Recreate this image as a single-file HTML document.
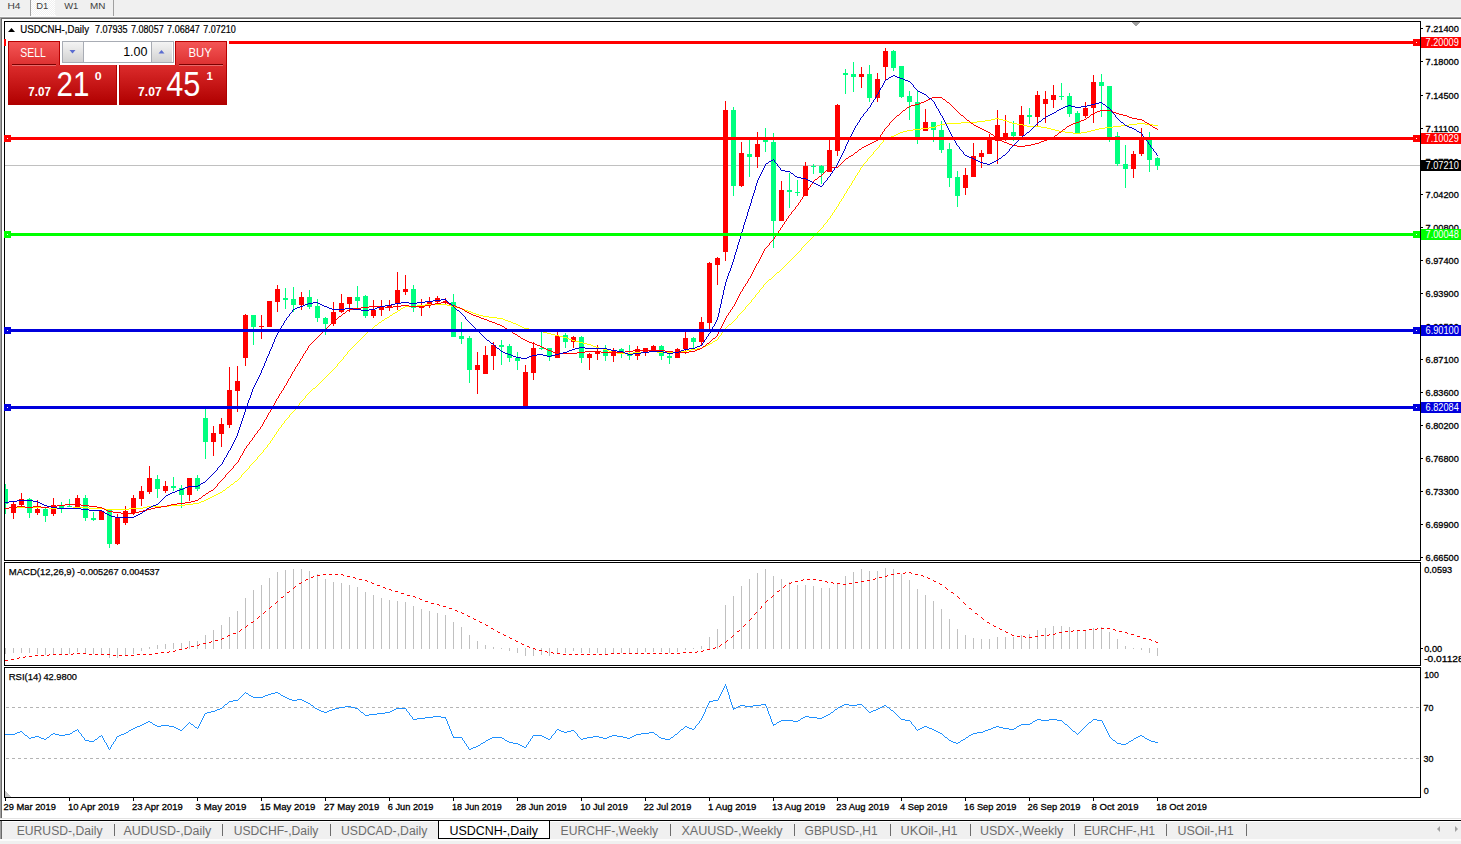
<!DOCTYPE html>
<html><head><meta charset="utf-8"><title>USDCNH-,Daily</title>
<style>
html,body{margin:0;padding:0;background:#f0f0f0;}
body{width:1461px;height:844px;overflow:hidden;font-family:"Liberation Sans", sans-serif;}
svg{display:block;font-family:"Liberation Sans", sans-serif;}
</style></head>
<body>
<svg width="1461" height="844" viewBox="0 0 1461 844">
<rect x="0" y="0" width="1461" height="844" fill="#f0f0f0"/>
<defs><pattern id="dith" x="0" y="0" width="2" height="2" patternUnits="userSpaceOnUse"><rect width="2" height="2" fill="#f0f0f0"/><rect width="1" height="1" fill="#ffffff"/><rect x="1" y="1" width="1" height="1" fill="#ffffff"/></pattern></defs>
<rect x="31" y="0" width="24" height="15" fill="url(#dith)" shape-rendering="crispEdges"/>
<rect x="30" y="15" width="26" height="1" fill="#fcfcfc"/>
<rect x="30" y="0" width="1" height="16" fill="#a0a0a0"/>
<rect x="113" y="0" width="1" height="17" fill="#a0a0a0"/>
<rect x="0" y="16" width="1461" height="1" fill="#f8f8f8"/>
<rect x="0" y="17" width="1461" height="1" fill="#a0a0a0"/>
<rect x="0" y="18" width="1461" height="1" fill="#696969"/>
<text x="7.4" y="9" font-size="9.8" fill="#404040" textLength="13.0" lengthAdjust="spacingAndGlyphs">H4</text>
<text x="36.2" y="9" font-size="9.8" fill="#404040" textLength="12.0" lengthAdjust="spacingAndGlyphs">D1</text>
<text x="64.2" y="9" font-size="9.8" fill="#404040" textLength="14.1" lengthAdjust="spacingAndGlyphs">W1</text>
<text x="90.0" y="9" font-size="9.8" fill="#404040" textLength="15.4" lengthAdjust="spacingAndGlyphs">MN</text>
<rect x="2" y="19" width="1459" height="799" fill="#ffffff"/>
<rect x="0" y="17" width="1" height="801" fill="#a0a0a0"/>
<rect x="1" y="18" width="1" height="800" fill="#696969"/>
<rect x="0" y="818" width="1461" height="1" fill="#e3e3e3"/>
<rect x="0" y="819" width="1461" height="1" fill="#ffffff"/>
<rect x="0" y="820" width="1461" height="1" fill="#000000"/>
<rect x="0" y="821" width="1461" height="1" fill="#ffffff"/>
<rect x="0" y="822" width="1461" height="17" fill="#f0f0f0"/>
<rect x="0" y="839" width="1461" height="2" fill="#fbfbfb"/>
<rect x="0" y="841" width="1461" height="3" fill="#f0f0f0"/>
<rect x="0" y="821" width="1" height="18" fill="#a0a0a0"/>
<rect x="1" y="821" width="1" height="18" fill="#696969"/>
<rect x="4" y="21" width="1417" height="1" fill="#000"/>
<rect x="4" y="560" width="1417" height="1" fill="#000"/>
<rect x="4" y="21" width="1" height="540" fill="#000"/>
<rect x="1420" y="21" width="1" height="540" fill="#000"/>
<rect x="4" y="562" width="1417" height="1" fill="#000"/>
<rect x="4" y="665" width="1417" height="1" fill="#000"/>
<rect x="4" y="562" width="1" height="104" fill="#000"/>
<rect x="1420" y="562" width="1" height="104" fill="#000"/>
<rect x="4" y="667" width="1417" height="1" fill="#000"/>
<rect x="4" y="797" width="1417" height="1" fill="#000"/>
<rect x="4" y="667" width="1" height="131" fill="#000"/>
<rect x="1420" y="667" width="1" height="131" fill="#000"/>
<g shape-rendering="crispEdges">
<rect x="5" y="165" width="1415" height="1" fill="#c0c0c0"/>
<polygon points="5,791 5,797 11,797" fill="#c8c8c8"/>
<polygon points="1131,22 1140,22 1135.5,26.5" fill="#a0a0a0"/>
</g>
<g shape-rendering="crispEdges">
<rect x="5" y="484" width="1" height="30" fill="#00ff7f"/>
<rect x="5" y="489" width="3" height="15" fill="#00ff7f"/>
<rect x="13" y="502" width="1" height="17" fill="#ff0000"/>
<rect x="11" y="504" width="5" height="9" fill="#ff0000"/>
<rect x="21" y="493" width="1" height="13" fill="#ff0000"/>
<rect x="19" y="499" width="5" height="6" fill="#ff0000"/>
<rect x="29" y="498" width="1" height="20" fill="#00ff7f"/>
<rect x="27" y="499" width="5" height="14" fill="#00ff7f"/>
<rect x="37" y="500" width="1" height="15" fill="#ff0000"/>
<rect x="35" y="509" width="5" height="4" fill="#ff0000"/>
<rect x="45" y="508" width="1" height="14" fill="#00ff7f"/>
<rect x="43" y="509" width="5" height="7" fill="#00ff7f"/>
<rect x="53" y="498" width="1" height="18" fill="#ff0000"/>
<rect x="51" y="505" width="5" height="9" fill="#ff0000"/>
<rect x="61" y="502" width="1" height="11" fill="#00ff7f"/>
<rect x="59" y="505" width="5" height="4" fill="#00ff7f"/>
<rect x="69" y="499" width="1" height="8" fill="#00ff7f"/>
<rect x="67" y="506" width="5" height="1" fill="#00ff7f"/>
<rect x="77" y="495" width="1" height="13" fill="#ff0000"/>
<rect x="75" y="498" width="5" height="9" fill="#ff0000"/>
<rect x="85" y="495" width="1" height="26" fill="#00ff7f"/>
<rect x="83" y="498" width="5" height="20" fill="#00ff7f"/>
<rect x="93" y="512" width="1" height="9" fill="#00ff7f"/>
<rect x="91" y="518" width="5" height="2" fill="#00ff7f"/>
<rect x="101" y="511" width="1" height="9" fill="#ff0000"/>
<rect x="99" y="511" width="5" height="9" fill="#ff0000"/>
<rect x="109" y="510" width="1" height="38" fill="#00ff7f"/>
<rect x="107" y="510" width="5" height="34" fill="#00ff7f"/>
<rect x="117" y="514" width="1" height="31" fill="#ff0000"/>
<rect x="115" y="518" width="5" height="26" fill="#ff0000"/>
<rect x="125" y="506" width="1" height="19" fill="#ff0000"/>
<rect x="123" y="511" width="5" height="12" fill="#ff0000"/>
<rect x="133" y="495" width="1" height="20" fill="#ff0000"/>
<rect x="131" y="498" width="5" height="15" fill="#ff0000"/>
<rect x="141" y="486" width="1" height="20" fill="#ff0000"/>
<rect x="139" y="491" width="5" height="8" fill="#ff0000"/>
<rect x="149" y="466" width="1" height="28" fill="#ff0000"/>
<rect x="147" y="478" width="5" height="14" fill="#ff0000"/>
<rect x="157" y="475" width="1" height="23" fill="#00ff7f"/>
<rect x="155" y="479" width="5" height="10" fill="#00ff7f"/>
<rect x="165" y="481" width="1" height="12" fill="#ff0000"/>
<rect x="163" y="486" width="5" height="5" fill="#ff0000"/>
<rect x="173" y="477" width="1" height="14" fill="#00ff7f"/>
<rect x="171" y="486" width="5" height="2" fill="#00ff7f"/>
<rect x="181" y="485" width="1" height="23" fill="#00ff7f"/>
<rect x="179" y="488" width="5" height="7" fill="#00ff7f"/>
<rect x="189" y="478" width="1" height="23" fill="#ff0000"/>
<rect x="187" y="478" width="5" height="17" fill="#ff0000"/>
<rect x="197" y="475" width="1" height="16" fill="#00ff7f"/>
<rect x="195" y="478" width="5" height="11" fill="#00ff7f"/>
<rect x="205" y="408" width="1" height="51" fill="#00ff7f"/>
<rect x="203" y="418" width="5" height="24" fill="#00ff7f"/>
<rect x="213" y="426" width="1" height="30" fill="#ff0000"/>
<rect x="211" y="433" width="5" height="9" fill="#ff0000"/>
<rect x="221" y="418" width="1" height="29" fill="#ff0000"/>
<rect x="219" y="424" width="5" height="10" fill="#ff0000"/>
<rect x="229" y="367" width="1" height="61" fill="#ff0000"/>
<rect x="227" y="390" width="5" height="35" fill="#ff0000"/>
<rect x="237" y="366" width="1" height="46" fill="#ff0000"/>
<rect x="235" y="381" width="5" height="10" fill="#ff0000"/>
<rect x="245" y="314" width="1" height="52" fill="#ff0000"/>
<rect x="243" y="315" width="5" height="43" fill="#ff0000"/>
<rect x="253" y="315" width="1" height="30" fill="#00ff7f"/>
<rect x="251" y="315" width="5" height="12" fill="#00ff7f"/>
<rect x="261" y="315" width="1" height="24" fill="#ff0000"/>
<rect x="259" y="326" width="5" height="1" fill="#ff0000"/>
<rect x="269" y="301" width="1" height="26" fill="#ff0000"/>
<rect x="267" y="301" width="5" height="26" fill="#ff0000"/>
<rect x="277" y="285" width="1" height="27" fill="#ff0000"/>
<rect x="275" y="289" width="5" height="13" fill="#ff0000"/>
<rect x="285" y="288" width="1" height="21" fill="#00ff7f"/>
<rect x="283" y="298" width="5" height="2" fill="#00ff7f"/>
<rect x="293" y="287" width="1" height="25" fill="#00ff7f"/>
<rect x="291" y="299" width="5" height="6" fill="#00ff7f"/>
<rect x="301" y="292" width="1" height="18" fill="#ff0000"/>
<rect x="299" y="297" width="5" height="8" fill="#ff0000"/>
<rect x="309" y="290" width="1" height="19" fill="#00ff7f"/>
<rect x="307" y="297" width="5" height="10" fill="#00ff7f"/>
<rect x="317" y="299" width="1" height="23" fill="#00ff7f"/>
<rect x="315" y="306" width="5" height="12" fill="#00ff7f"/>
<rect x="325" y="317" width="1" height="18" fill="#00ff7f"/>
<rect x="323" y="318" width="5" height="6" fill="#00ff7f"/>
<rect x="333" y="302" width="1" height="24" fill="#ff0000"/>
<rect x="331" y="312" width="5" height="12" fill="#ff0000"/>
<rect x="341" y="294" width="1" height="19" fill="#ff0000"/>
<rect x="339" y="303" width="5" height="9" fill="#ff0000"/>
<rect x="349" y="297" width="1" height="15" fill="#ff0000"/>
<rect x="347" y="297" width="5" height="7" fill="#ff0000"/>
<rect x="357" y="286" width="1" height="24" fill="#00ff7f"/>
<rect x="355" y="297" width="5" height="4" fill="#00ff7f"/>
<rect x="365" y="295" width="1" height="23" fill="#00ff7f"/>
<rect x="363" y="296" width="5" height="20" fill="#00ff7f"/>
<rect x="373" y="300" width="1" height="18" fill="#ff0000"/>
<rect x="371" y="310" width="5" height="6" fill="#ff0000"/>
<rect x="381" y="300" width="1" height="16" fill="#ff0000"/>
<rect x="379" y="306" width="5" height="4" fill="#ff0000"/>
<rect x="389" y="300" width="1" height="11" fill="#ff0000"/>
<rect x="387" y="305" width="5" height="2" fill="#ff0000"/>
<rect x="397" y="272" width="1" height="38" fill="#ff0000"/>
<rect x="395" y="290" width="5" height="14" fill="#ff0000"/>
<rect x="405" y="275" width="1" height="20" fill="#ff0000"/>
<rect x="403" y="289" width="5" height="3" fill="#ff0000"/>
<rect x="413" y="285" width="1" height="27" fill="#00ff7f"/>
<rect x="411" y="289" width="5" height="19" fill="#00ff7f"/>
<rect x="421" y="299" width="1" height="17" fill="#ff0000"/>
<rect x="419" y="306" width="5" height="2" fill="#ff0000"/>
<rect x="429" y="297" width="1" height="11" fill="#ff0000"/>
<rect x="427" y="302" width="5" height="3" fill="#ff0000"/>
<rect x="437" y="296" width="1" height="7" fill="#ff0000"/>
<rect x="435" y="298" width="5" height="4" fill="#ff0000"/>
<rect x="445" y="298" width="1" height="6" fill="#ff0000"/>
<rect x="443" y="301" width="5" height="2" fill="#ff0000"/>
<rect x="453" y="294" width="1" height="43" fill="#00ff7f"/>
<rect x="451" y="302" width="5" height="35" fill="#00ff7f"/>
<rect x="461" y="322" width="1" height="22" fill="#00ff7f"/>
<rect x="459" y="336" width="5" height="3" fill="#00ff7f"/>
<rect x="469" y="336" width="1" height="47" fill="#00ff7f"/>
<rect x="467" y="338" width="5" height="32" fill="#00ff7f"/>
<rect x="477" y="352" width="1" height="42" fill="#ff0000"/>
<rect x="475" y="365" width="5" height="5" fill="#ff0000"/>
<rect x="485" y="346" width="1" height="28" fill="#ff0000"/>
<rect x="483" y="355" width="5" height="19" fill="#ff0000"/>
<rect x="493" y="342" width="1" height="28" fill="#ff0000"/>
<rect x="491" y="345" width="5" height="11" fill="#ff0000"/>
<rect x="501" y="340" width="1" height="25" fill="#00ff7f"/>
<rect x="499" y="345" width="5" height="2" fill="#00ff7f"/>
<rect x="509" y="344" width="1" height="18" fill="#00ff7f"/>
<rect x="507" y="346" width="5" height="12" fill="#00ff7f"/>
<rect x="517" y="352" width="1" height="18" fill="#00ff7f"/>
<rect x="515" y="358" width="5" height="3" fill="#00ff7f"/>
<rect x="525" y="365" width="1" height="42" fill="#ff0000"/>
<rect x="523" y="372" width="5" height="34" fill="#ff0000"/>
<rect x="533" y="342" width="1" height="38" fill="#ff0000"/>
<rect x="531" y="348" width="5" height="25" fill="#ff0000"/>
<rect x="541" y="332" width="1" height="18" fill="#00ff7f"/>
<rect x="539" y="348" width="5" height="1" fill="#00ff7f"/>
<rect x="549" y="348" width="1" height="13" fill="#00ff7f"/>
<rect x="547" y="348" width="5" height="9" fill="#00ff7f"/>
<rect x="557" y="332" width="1" height="26" fill="#ff0000"/>
<rect x="555" y="336" width="5" height="22" fill="#ff0000"/>
<rect x="565" y="333" width="1" height="15" fill="#00ff7f"/>
<rect x="563" y="335" width="5" height="7" fill="#00ff7f"/>
<rect x="573" y="336" width="1" height="12" fill="#ff0000"/>
<rect x="571" y="337" width="5" height="5" fill="#ff0000"/>
<rect x="581" y="336" width="1" height="27" fill="#00ff7f"/>
<rect x="579" y="337" width="5" height="21" fill="#00ff7f"/>
<rect x="589" y="353" width="1" height="17" fill="#ff0000"/>
<rect x="587" y="354" width="5" height="4" fill="#ff0000"/>
<rect x="597" y="345" width="1" height="15" fill="#ff0000"/>
<rect x="595" y="351" width="5" height="3" fill="#ff0000"/>
<rect x="605" y="345" width="1" height="16" fill="#00ff7f"/>
<rect x="603" y="350" width="5" height="6" fill="#00ff7f"/>
<rect x="613" y="348" width="1" height="14" fill="#ff0000"/>
<rect x="611" y="350" width="5" height="6" fill="#ff0000"/>
<rect x="621" y="348" width="1" height="10" fill="#00ff7f"/>
<rect x="619" y="349" width="5" height="4" fill="#00ff7f"/>
<rect x="629" y="345" width="1" height="15" fill="#00ff7f"/>
<rect x="627" y="354" width="5" height="2" fill="#00ff7f"/>
<rect x="637" y="346" width="1" height="14" fill="#ff0000"/>
<rect x="635" y="349" width="5" height="7" fill="#ff0000"/>
<rect x="645" y="348" width="1" height="8" fill="#ff0000"/>
<rect x="643" y="348" width="5" height="5" fill="#ff0000"/>
<rect x="653" y="345" width="1" height="5" fill="#ff0000"/>
<rect x="651" y="346" width="5" height="4" fill="#ff0000"/>
<rect x="661" y="345" width="1" height="15" fill="#00ff7f"/>
<rect x="659" y="346" width="5" height="10" fill="#00ff7f"/>
<rect x="669" y="354" width="1" height="10" fill="#00ff7f"/>
<rect x="667" y="356" width="5" height="2" fill="#00ff7f"/>
<rect x="677" y="348" width="1" height="10" fill="#ff0000"/>
<rect x="675" y="349" width="5" height="9" fill="#ff0000"/>
<rect x="685" y="332" width="1" height="22" fill="#ff0000"/>
<rect x="683" y="338" width="5" height="11" fill="#ff0000"/>
<rect x="693" y="337" width="1" height="11" fill="#00ff7f"/>
<rect x="691" y="338" width="5" height="4" fill="#00ff7f"/>
<rect x="701" y="317" width="1" height="29" fill="#ff0000"/>
<rect x="699" y="322" width="5" height="20" fill="#ff0000"/>
<rect x="709" y="262" width="1" height="67" fill="#ff0000"/>
<rect x="707" y="263" width="5" height="60" fill="#ff0000"/>
<rect x="717" y="257" width="1" height="28" fill="#ff0000"/>
<rect x="715" y="258" width="5" height="7" fill="#ff0000"/>
<rect x="725" y="101" width="1" height="160" fill="#ff0000"/>
<rect x="723" y="110" width="5" height="142" fill="#ff0000"/>
<rect x="733" y="107" width="1" height="89" fill="#00ff7f"/>
<rect x="731" y="110" width="5" height="76" fill="#00ff7f"/>
<rect x="741" y="142" width="1" height="45" fill="#ff0000"/>
<rect x="739" y="153" width="5" height="33" fill="#ff0000"/>
<rect x="749" y="140" width="1" height="37" fill="#00ff7f"/>
<rect x="747" y="154" width="5" height="3" fill="#00ff7f"/>
<rect x="757" y="132" width="1" height="36" fill="#ff0000"/>
<rect x="755" y="144" width="5" height="13" fill="#ff0000"/>
<rect x="765" y="128" width="1" height="24" fill="#00ff7f"/>
<rect x="763" y="140" width="5" height="2" fill="#00ff7f"/>
<rect x="773" y="133" width="1" height="115" fill="#00ff7f"/>
<rect x="771" y="142" width="5" height="79" fill="#00ff7f"/>
<rect x="781" y="181" width="1" height="40" fill="#ff0000"/>
<rect x="779" y="190" width="5" height="31" fill="#ff0000"/>
<rect x="789" y="173" width="1" height="35" fill="#00ff7f"/>
<rect x="787" y="190" width="5" height="2" fill="#00ff7f"/>
<rect x="797" y="180" width="1" height="16" fill="#00ff7f"/>
<rect x="795" y="192" width="5" height="1" fill="#00ff7f"/>
<rect x="805" y="162" width="1" height="34" fill="#ff0000"/>
<rect x="803" y="166" width="5" height="30" fill="#ff0000"/>
<rect x="813" y="164" width="1" height="10" fill="#00ff7f"/>
<rect x="811" y="166" width="5" height="1" fill="#00ff7f"/>
<rect x="821" y="165" width="1" height="19" fill="#00ff7f"/>
<rect x="819" y="166" width="5" height="7" fill="#00ff7f"/>
<rect x="829" y="140" width="1" height="32" fill="#ff0000"/>
<rect x="827" y="150" width="5" height="22" fill="#ff0000"/>
<rect x="837" y="104" width="1" height="52" fill="#ff0000"/>
<rect x="835" y="105" width="5" height="46" fill="#ff0000"/>
<rect x="845" y="69" width="1" height="25" fill="#00ff7f"/>
<rect x="843" y="73" width="5" height="2" fill="#00ff7f"/>
<rect x="853" y="62" width="1" height="30" fill="#00ff7f"/>
<rect x="851" y="74" width="5" height="3" fill="#00ff7f"/>
<rect x="861" y="67" width="1" height="21" fill="#ff0000"/>
<rect x="859" y="74" width="5" height="3" fill="#ff0000"/>
<rect x="869" y="65" width="1" height="37" fill="#00ff7f"/>
<rect x="867" y="74" width="5" height="24" fill="#00ff7f"/>
<rect x="877" y="73" width="1" height="29" fill="#ff0000"/>
<rect x="875" y="79" width="5" height="19" fill="#ff0000"/>
<rect x="885" y="48" width="1" height="32" fill="#ff0000"/>
<rect x="883" y="51" width="5" height="16" fill="#ff0000"/>
<rect x="893" y="50" width="1" height="21" fill="#00ff7f"/>
<rect x="891" y="51" width="5" height="17" fill="#00ff7f"/>
<rect x="901" y="66" width="1" height="32" fill="#00ff7f"/>
<rect x="899" y="66" width="5" height="31" fill="#00ff7f"/>
<rect x="909" y="91" width="1" height="29" fill="#00ff7f"/>
<rect x="907" y="96" width="5" height="6" fill="#00ff7f"/>
<rect x="917" y="91" width="1" height="53" fill="#00ff7f"/>
<rect x="915" y="102" width="5" height="35" fill="#00ff7f"/>
<rect x="925" y="109" width="1" height="22" fill="#ff0000"/>
<rect x="923" y="122" width="5" height="9" fill="#ff0000"/>
<rect x="933" y="122" width="1" height="20" fill="#00ff7f"/>
<rect x="931" y="122" width="5" height="8" fill="#00ff7f"/>
<rect x="941" y="121" width="1" height="32" fill="#00ff7f"/>
<rect x="939" y="130" width="5" height="20" fill="#00ff7f"/>
<rect x="949" y="143" width="1" height="44" fill="#00ff7f"/>
<rect x="947" y="149" width="5" height="29" fill="#00ff7f"/>
<rect x="957" y="171" width="1" height="36" fill="#00ff7f"/>
<rect x="955" y="177" width="5" height="19" fill="#00ff7f"/>
<rect x="965" y="168" width="1" height="27" fill="#ff0000"/>
<rect x="963" y="175" width="5" height="13" fill="#ff0000"/>
<rect x="973" y="143" width="1" height="34" fill="#ff0000"/>
<rect x="971" y="156" width="5" height="21" fill="#ff0000"/>
<rect x="981" y="150" width="1" height="18" fill="#ff0000"/>
<rect x="979" y="153" width="5" height="4" fill="#ff0000"/>
<rect x="989" y="134" width="1" height="20" fill="#ff0000"/>
<rect x="987" y="139" width="5" height="15" fill="#ff0000"/>
<rect x="997" y="110" width="1" height="54" fill="#ff0000"/>
<rect x="995" y="125" width="5" height="16" fill="#ff0000"/>
<rect x="1005" y="115" width="1" height="26" fill="#ff0000"/>
<rect x="1003" y="133" width="5" height="7" fill="#ff0000"/>
<rect x="1013" y="121" width="1" height="20" fill="#00ff7f"/>
<rect x="1011" y="132" width="5" height="4" fill="#00ff7f"/>
<rect x="1021" y="106" width="1" height="30" fill="#ff0000"/>
<rect x="1019" y="115" width="5" height="21" fill="#ff0000"/>
<rect x="1029" y="108" width="1" height="16" fill="#00ff7f"/>
<rect x="1027" y="115" width="5" height="2" fill="#00ff7f"/>
<rect x="1037" y="91" width="1" height="36" fill="#ff0000"/>
<rect x="1035" y="95" width="5" height="22" fill="#ff0000"/>
<rect x="1045" y="91" width="1" height="32" fill="#ff0000"/>
<rect x="1043" y="99" width="5" height="5" fill="#ff0000"/>
<rect x="1053" y="85" width="1" height="23" fill="#ff0000"/>
<rect x="1051" y="95" width="5" height="5" fill="#ff0000"/>
<rect x="1061" y="83" width="1" height="17" fill="#00ff7f"/>
<rect x="1059" y="96" width="5" height="1" fill="#00ff7f"/>
<rect x="1069" y="93" width="1" height="24" fill="#00ff7f"/>
<rect x="1067" y="96" width="5" height="18" fill="#00ff7f"/>
<rect x="1077" y="111" width="1" height="23" fill="#00ff7f"/>
<rect x="1075" y="113" width="5" height="20" fill="#00ff7f"/>
<rect x="1085" y="102" width="1" height="16" fill="#ff0000"/>
<rect x="1083" y="108" width="5" height="8" fill="#ff0000"/>
<rect x="1093" y="75" width="1" height="48" fill="#ff0000"/>
<rect x="1091" y="82" width="5" height="26" fill="#ff0000"/>
<rect x="1101" y="74" width="1" height="43" fill="#00ff7f"/>
<rect x="1099" y="82" width="5" height="4" fill="#00ff7f"/>
<rect x="1109" y="86" width="1" height="56" fill="#00ff7f"/>
<rect x="1107" y="86" width="5" height="51" fill="#00ff7f"/>
<rect x="1117" y="132" width="1" height="34" fill="#00ff7f"/>
<rect x="1115" y="136" width="5" height="28" fill="#00ff7f"/>
<rect x="1125" y="145" width="1" height="43" fill="#00ff7f"/>
<rect x="1123" y="164" width="5" height="5" fill="#00ff7f"/>
<rect x="1133" y="151" width="1" height="27" fill="#ff0000"/>
<rect x="1131" y="154" width="5" height="15" fill="#ff0000"/>
<rect x="1141" y="128" width="1" height="28" fill="#ff0000"/>
<rect x="1139" y="138" width="5" height="16" fill="#ff0000"/>
<rect x="1149" y="132" width="1" height="40" fill="#00ff7f"/>
<rect x="1147" y="138" width="5" height="22" fill="#00ff7f"/>
<rect x="1157" y="157" width="1" height="13" fill="#00ff7f"/>
<rect x="1155" y="158" width="5" height="8" fill="#00ff7f"/>
</g>
<clipPath id="cm"><rect x="5" y="22" width="1415" height="538"/></clipPath>
<g clip-path="url(#cm)">
<path d="M609,351h3v1h-3zM649,351h8v1h-8zM681,351h6v1h-6zM5,508h4v1h-4zM49,508h24v1h-24zM89,508h16v1h-16zM129,508h14v1h-14zM900,132h3v1h-3zM1065,132h8v1h-8zM1081,132h6v1h-6zM940,124h5v1h-5zM1017,124h6v1h-6zM1129,124h8v1h-8zM1145,124h8v1h-8zM921,128h8v1h-8zM1047,128h4v1h-4zM1099,128h6v1h-6zM417,305h8v1h-8zM447,305h4v1h-4zM214,495h2v1h-2zM898,133h2v1h-2zM1073,133h8v1h-8zM9,507h40v1h-40zM73,507h16v1h-16zM143,507h4v1h-4zM599,348h4v1h-4zM697,348h5v1h-5zM579,342h4v1h-4zM169,505h16v1h-16zM913,129h8v1h-8zM1051,129h4v1h-4zM1095,129h4v1h-4zM896,134h2v1h-2zM991,119h4v1h-4zM999,119h4v1h-4zM385,318h2v1h-2zM497,318h6v1h-6zM375,325h2v1h-2zM518,325h2v1h-2zM903,131h4v1h-4zM1059,131h6v1h-6zM1087,131h4v1h-4zM583,343h4v1h-4zM710,343h2v1h-2zM555,335h4v1h-4zM223,490h2v1h-2zM617,353h16v1h-16zM603,349h4v1h-4zM691,349h6v1h-6zM907,130h6v1h-6zM1055,130h4v1h-4zM1091,130h4v1h-4zM379,322h2v1h-2zM511,322h2v1h-2zM503,319h2v1h-2zM985,120h6v1h-6zM1003,120h4v1h-4zM401,308h2v1h-2zM459,308h4v1h-4zM369,330h2v1h-2zM535,330h4v1h-4zM945,123h16v1h-16zM1012,123h5v1h-5zM1137,123h8v1h-8zM393,313h2v1h-2zM473,313h3v1h-3zM193,503h6v1h-6zM425,304h22v1h-22zM935,126h2v1h-2zM1027,126h14v1h-14zM1113,126h8v1h-8zM147,506h22v1h-22zM105,509h24v1h-24zM612,352h5v1h-5zM633,352h16v1h-16zM657,352h24v1h-24zM520,326h2v1h-2zM185,504h8v1h-8zM403,307h2v1h-2zM455,307h4v1h-4zM937,125h3v1h-3zM1023,125h4v1h-4zM1121,125h8v1h-8zM1153,125h5v1h-5zM929,127h6v1h-6zM1041,127h6v1h-6zM1105,127h8v1h-8zM513,323h3v1h-3zM529,329h6v1h-6zM390,315h2v1h-2zM479,315h4v1h-4zM575,341h4v1h-4zM713,341h2v1h-2zM572,340h3v1h-3zM715,340h2v1h-2zM382,320h2v1h-2zM505,320h3v1h-3zM483,316h6v1h-6zM227,487h2v1h-2zM961,122h16v1h-16zM1009,122h3v1h-3zM563,337h4v1h-4zM220,492h2v1h-2zM468,311h3v1h-3zM231,484h2v1h-2zM543,332h4v1h-4zM524,328h5v1h-5zM539,331h4v1h-4zM235,481h2v1h-2zM559,336h4v1h-4zM201,501h3v1h-3zM596,347h3v1h-3zM702,347h2v1h-2zM591,345h2v1h-2zM706,345h2v1h-2zM522,327h2v1h-2zM551,334h4v1h-4zM387,317h2v1h-2zM489,317h8v1h-8zM607,350h2v1h-2zM687,350h4v1h-4zM887,137h4v1h-4zM587,344h4v1h-4zM708,344h2v1h-2zM476,314h3v1h-3zM216,494h2v1h-2zM569,339h3v1h-3zM894,135h2v1h-2zM508,321h3v1h-3zM516,324h2v1h-2zM729,324h2v1h-2zM593,346h3v1h-3zM704,346h2v1h-2zM769,279h2v1h-2zM395,312h2v1h-2zM471,312h2v1h-2zM547,333h4v1h-4zM405,306h12v1h-12zM451,306h4v1h-4zM567,338h2v1h-2zM463,309h2v1h-2zM212,496h2v1h-2zM208,498h2v1h-2zM977,121h8v1h-8zM1007,121h2v1h-2zM885,138h2v1h-2zM995,118h4v1h-4zM204,500h2v1h-2zM891,136h3v1h-3zM210,497h2v1h-2zM218,493h2v1h-2zM398,310h2v1h-2zM465,310h3v1h-3zM199,502h2v1h-2zM313,388h2v1h-2zM206,499h2v1h-2zM777,272h2v1h-2zM348,351h1v1h-1zM257,457h1v2h-1zM226,488h1v1h-1zM747,305h1v1h-1zM335,367h1v1h-1zM304,398h1v1h-1zM307,394h1v1h-1zM351,348h1v1h-1zM357,342h1v1h-1zM712,342h1v1h-1zM751,300h1v2h-1zM241,475h1v2h-1zM771,278h1v1h-1zM288,417h1v1h-1zM736,318h1v1h-1zM728,325h1v1h-1zM356,343h1v1h-1zM252,463h1v1h-1zM364,335h1v1h-1zM720,335h1v1h-1zM347,352h1v2h-1zM350,349h1v1h-1zM802,247h1v1h-1zM732,322h1v1h-1zM869,157h1v1h-1zM384,319h1v1h-1zM735,319h1v1h-1zM280,427h1v1h-1zM857,173h1v2h-1zM745,307h1v2h-1zM724,329h1v2h-1zM323,379h1v1h-1zM740,313h1v1h-1zM846,191h1v2h-1zM748,304h1v1h-1zM759,290h1v2h-1zM249,466h1v2h-1zM296,407h1v1h-1zM374,326h1v1h-1zM727,326h1v1h-1zM343,357h1v2h-1zM821,228h1v1h-1zM853,180h1v1h-1zM244,472h1v1h-1zM378,323h1v1h-1zM731,323h1v1h-1zM842,198h1v1h-1zM291,413h1v1h-1zM371,329h1v1h-1zM738,315h1v1h-1zM338,363h1v1h-1zM358,341h1v1h-1zM840,201h1v1h-1zM359,340h1v1h-1zM734,320h1v1h-1zM389,316h1v1h-1zM737,316h1v2h-1zM782,268h1v1h-1zM362,337h1v1h-1zM718,337h1v2h-1zM809,240h1v1h-1zM849,186h1v2h-1zM829,218h1v1h-1zM397,311h1v1h-1zM742,311h1v1h-1zM367,332h1v1h-1zM722,332h1v1h-1zM299,403h1v2h-1zM372,328h1v1h-1zM725,328h1v1h-1zM368,331h1v1h-1zM723,331h1v1h-1zM256,459h1v1h-1zM824,224h1v1h-1zM836,207h1v2h-1zM750,302h1v1h-1zM794,256h1v1h-1zM363,336h1v1h-1zM719,336h1v1h-1zM352,347h1v1h-1zM354,345h1v1h-1zM267,445h1v2h-1zM373,327h1v1h-1zM726,327h1v1h-1zM276,432h1v2h-1zM365,334h1v1h-1zM721,333h1v2h-1zM349,350h1v1h-1zM264,449h1v1h-1zM355,344h1v1h-1zM832,213h1v2h-1zM311,390h1v1h-1zM758,292h1v1h-1zM392,314h1v1h-1zM739,314h1v1h-1zM860,168h1v2h-1zM360,339h1v1h-1zM717,339h1v1h-1zM274,435h1v2h-1zM381,321h1v1h-1zM733,321h1v1h-1zM377,324h1v1h-1zM330,372h1v1h-1zM353,346h1v1h-1zM753,298h1v1h-1zM876,149h1v1h-1zM741,312h1v1h-1zM366,333h1v1h-1zM766,282h1v1h-1zM801,248h1v2h-1zM270,441h1v2h-1zM746,306h1v1h-1zM871,155h1v1h-1zM361,338h1v1h-1zM318,384h1v1h-1zM761,288h1v1h-1zM884,139h1v1h-1zM816,233h1v1h-1zM298,405h1v1h-1zM342,359h1v1h-1zM345,355h1v1h-1zM789,261h1v1h-1zM400,309h1v1h-1zM744,309h1v1h-1zM879,145h1v2h-1zM293,411h1v1h-1zM259,455h1v1h-1zM337,364h1v2h-1zM340,361h1v1h-1zM852,181h1v2h-1zM804,245h1v1h-1zM773,276h1v1h-1zM306,395h1v1h-1zM254,461h1v1h-1zM856,175h1v1h-1zM859,170h1v2h-1zM325,377h1v1h-1zM868,158h1v1h-1zM282,424h1v1h-1zM764,284h1v1h-1zM251,464h1v1h-1zM796,254h1v1h-1zM863,164h1v2h-1zM309,392h1v1h-1zM246,470h1v1h-1zM820,229h1v1h-1zM811,238h1v1h-1zM290,414h1v1h-1zM883,140h1v2h-1zM230,485h1v1h-1zM784,266h1v1h-1zM839,202h1v2h-1zM273,437h1v1h-1zM285,420h1v1h-1zM234,482h1v1h-1zM808,241h1v1h-1zM332,370h1v1h-1zM301,401h1v1h-1zM878,147h1v1h-1zM823,225h1v2h-1zM826,222h1v1h-1zM835,209h1v1h-1zM838,204h1v2h-1zM749,303h1v1h-1zM320,382h1v1h-1zM855,176h1v2h-1zM743,310h1v1h-1zM266,447h1v1h-1zM269,443h1v1h-1zM867,159h1v2h-1zM278,429h1v2h-1zM281,425h1v2h-1zM791,259h1v1h-1zM238,479h1v1h-1zM261,453h1v1h-1zM815,234h1v1h-1zM862,166h1v1h-1zM851,183h1v2h-1zM755,295h1v2h-1zM775,274h1v1h-1zM779,271h1v1h-1zM289,415h1v2h-1zM768,280h1v1h-1zM336,366h1v1h-1zM873,152h1v2h-1zM803,246h1v1h-1zM327,375h1v1h-1zM870,156h1v1h-1zM763,285h1v2h-1zM253,462h1v1h-1zM818,231h1v1h-1zM845,193h1v1h-1zM324,378h1v1h-1zM834,210h1v2h-1zM344,356h1v1h-1zM248,468h1v1h-1zM881,143h1v1h-1zM295,408h1v2h-1zM315,387h1v1h-1zM806,243h1v1h-1zM339,362h1v1h-1zM308,393h1v1h-1zM752,299h1v1h-1zM786,264h1v1h-1zM841,199h1v2h-1zM225,489h1v1h-1zM303,399h1v1h-1zM272,438h1v2h-1zM858,172h1v1h-1zM284,421h1v2h-1zM229,486h1v1h-1zM798,252h1v1h-1zM865,162h1v1h-1zM331,371h1v1h-1zM300,402h1v1h-1zM279,428h1v1h-1zM822,227h1v1h-1zM245,471h1v1h-1zM813,236h1v1h-1zM292,412h1v1h-1zM319,383h1v1h-1zM240,477h1v1h-1zM243,473h1v1h-1zM287,418h1v1h-1zM810,239h1v1h-1zM334,368h1v1h-1zM233,483h1v1h-1zM260,454h1v1h-1zM825,223h1v1h-1zM828,219h1v1h-1zM837,206h1v1h-1zM774,275h1v1h-1zM322,380h1v1h-1zM793,257h1v1h-1zM790,260h1v1h-1zM762,287h1v1h-1zM263,450h1v2h-1zM817,232h1v1h-1zM275,434h1v1h-1zM861,167h1v1h-1zM310,391h1v1h-1zM754,297h1v1h-1zM757,293h1v1h-1zM781,269h1v1h-1zM848,188h1v1h-1zM805,244h1v1h-1zM329,373h1v1h-1zM872,154h1v1h-1zM255,460h1v1h-1zM765,283h1v1h-1zM800,250h1v1h-1zM844,194h1v2h-1zM326,376h1v1h-1zM346,354h1v1h-1zM317,385h1v1h-1zM880,144h1v1h-1zM294,410h1v1h-1zM831,215h1v1h-1zM341,360h1v1h-1zM864,163h1v1h-1zM788,262h1v1h-1zM875,150h1v1h-1zM258,456h1v1h-1zM812,237h1v1h-1zM305,396h1v2h-1zM772,277h1v1h-1zM302,400h1v1h-1zM271,440h1v1h-1zM239,478h1v1h-1zM283,423h1v1h-1zM286,419h1v1h-1zM333,369h1v1h-1zM797,253h1v1h-1zM847,189h1v2h-1zM760,289h1v1h-1zM247,469h1v1h-1zM250,465h1v1h-1zM795,255h1v1h-1zM854,178h1v2h-1zM785,265h1v1h-1zM843,196h1v2h-1zM783,267h1v1h-1zM262,452h1v1h-1zM827,220h1v2h-1zM807,242h1v1h-1zM776,273h1v1h-1zM297,406h1v1h-1zM222,491h1v1h-1zM321,381h1v1h-1zM792,258h1v1h-1zM819,230h1v1h-1zM882,142h1v1h-1zM242,474h1v1h-1zM265,448h1v1h-1zM830,216h1v2h-1zM866,161h1v1h-1zM312,389h1v1h-1zM277,431h1v1h-1zM237,480h1v1h-1zM780,270h1v1h-1zM850,185h1v1h-1zM328,374h1v1h-1zM874,151h1v1h-1zM767,281h1v1h-1zM799,251h1v1h-1zM268,444h1v1h-1zM316,386h1v1h-1zM833,212h1v1h-1zM877,148h1v1h-1zM787,263h1v1h-1zM756,294h1v1h-1zM814,235h1v1h-1z" fill="#ffff00" shape-rendering="crispEdges"/>
<path d="M903,110h2v1h-2zM1100,110h11v1h-11zM515,334h2v1h-2zM1132,118h5v1h-5zM553,352h3v1h-3zM577,352h8v1h-8zM601,352h24v1h-24zM673,352h16v1h-16zM548,350h3v1h-3zM633,350h32v1h-32zM695,350h2v1h-2zM17,506h8v1h-8zM33,506h8v1h-8zM49,506h8v1h-8zM89,506h8v1h-8zM161,506h6v1h-6zM9,507h8v1h-8zM25,507h8v1h-8zM41,507h8v1h-8zM97,507h5v1h-5zM155,507h6v1h-6zM924,101h2v1h-2zM369,306h16v1h-16zM393,306h8v1h-8zM409,306h16v1h-16zM455,306h2v1h-2zM361,307h8v1h-8zM385,307h8v1h-8zM457,307h3v1h-3zM431,304h4v1h-4zM449,304h3v1h-3zM911,105h4v1h-4zM1097,111h3v1h-3zM1111,111h2v1h-2zM495,323h2v1h-2zM976,126h2v1h-2zM1067,126h2v1h-2zM982,129h2v1h-2zM1063,129h2v1h-2zM353,308h8v1h-8zM460,308h2v1h-2zM510,331h2v1h-2zM1095,112h2v1h-2zM1113,112h3v1h-3zM502,326h2v1h-2zM967,120h2v1h-2zM1081,120h3v1h-3zM1142,120h2v1h-2zM556,353h21v1h-21zM106,510h2v1h-2zM143,510h4v1h-4zM487,320h2v1h-2zM998,139h2v1h-2zM1047,139h2v1h-2zM872,142h2v1h-2zM1004,142h3v1h-3zM1039,142h2v1h-2zM121,513h14v1h-14zM551,351h2v1h-2zM585,351h16v1h-16zM625,351h8v1h-8zM665,351h8v1h-8zM689,351h6v1h-6zM441,302h6v1h-6zM870,143h2v1h-2zM1007,143h2v1h-2zM1035,143h4v1h-4zM546,349h2v1h-2zM697,349h3v1h-3zM984,130h2v1h-2zM401,305h8v1h-8zM425,305h6v1h-6zM452,305h3v1h-3zM185,502h6v1h-6zM465,311h2v1h-2zM65,504h16v1h-16zM171,504h6v1h-6zM851,155h2v1h-2zM971,123h2v1h-2zM1073,123h3v1h-3zM1147,123h2v1h-2zM1055,135h2v1h-2zM978,127h2v1h-2zM1153,127h2v1h-2zM113,512h8v1h-8zM135,512h4v1h-4zM868,144h2v1h-2zM1009,144h3v1h-3zM1031,144h4v1h-4zM435,303h6v1h-6zM447,303h2v1h-2zM532,343h3v1h-3zM707,343h2v1h-2zM1127,116h2v1h-2zM1087,117h2v1h-2zM1129,117h3v1h-3zM932,97h10v1h-10zM859,149h2v1h-2zM1049,138h3v1h-3zM203,495h2v1h-2zM980,128h2v1h-2zM1155,128h2v1h-2zM537,345h3v1h-3zM497,324h3v1h-3zM492,322h3v1h-3zM507,329h2v1h-2zM335,319h2v1h-2zM484,319h3v1h-3zM518,336h2v1h-2zM874,141h2v1h-2zM1002,141h2v1h-2zM1041,141h3v1h-3zM995,137h2v1h-2zM1052,137h2v1h-2zM1079,121h2v1h-2zM909,106h2v1h-2zM57,505h8v1h-8zM81,505h8v1h-8zM167,505h4v1h-4zM349,309h4v1h-4zM462,309h2v1h-2zM177,503h8v1h-8zM1093,113h2v1h-2zM1116,113h3v1h-3zM343,313h2v1h-2zM469,313h2v1h-2zM991,134h2v1h-2zM544,348h2v1h-2zM700,348h2v1h-2zM104,509h2v1h-2zM147,509h4v1h-4zM864,146h2v1h-2zM1017,146h8v1h-8zM1091,114h2v1h-2zM1119,114h4v1h-4zM195,500h3v1h-3zM974,125h2v1h-2zM1069,125h2v1h-2zM1150,125h2v1h-2zM986,131h2v1h-2zM489,321h3v1h-3zM481,318h3v1h-3zM535,344h2v1h-2zM500,325h2v1h-2zM108,511h5v1h-5zM139,511h4v1h-4zM921,102h3v1h-3zM947,102h2v1h-2zM521,338h2v1h-2zM713,338h2v1h-2zM819,176h2v1h-2zM928,99h2v1h-2zM943,99h2v1h-2zM525,340h2v1h-2zM5,508h4v1h-4zM102,508h2v1h-2zM151,508h4v1h-4zM897,115h2v1h-2zM961,115h2v1h-2zM1123,115h4v1h-4zM211,490h2v1h-2zM876,140h2v1h-2zM1000,140h2v1h-2zM1044,140h3v1h-3zM479,317h2v1h-2zM473,315h3v1h-3zM849,156h2v1h-2zM1071,124h2v1h-2zM930,98h2v1h-2zM866,145h2v1h-2zM1012,145h5v1h-5zM1025,145h6v1h-6zM915,104h4v1h-4zM542,347h2v1h-2zM339,316h2v1h-2zM476,316h3v1h-3zM523,339h2v1h-2zM191,501h4v1h-4zM1076,122h3v1h-3zM1145,122h2v1h-2zM209,491h2v1h-2zM471,314h2v1h-2zM540,346h2v1h-2zM703,346h2v1h-2zM829,167h9v1h-9zM467,312h2v1h-2zM919,103h2v1h-2zM513,333h2v1h-2zM1084,119h2v1h-2zM1137,119h5v1h-5zM926,100h2v1h-2zM529,342h3v1h-3zM988,132h2v1h-2zM1059,132h2v1h-2zM527,341h2v1h-2zM505,328h2v1h-2zM815,179h2v1h-2zM907,107h2v1h-2zM347,310h2v1h-2zM846,158h2v1h-2zM855,152h2v1h-2zM199,498h2v1h-2zM862,147h2v1h-2zM206,493h2v1h-2zM956,110h1v1h-1zM320,334h1v1h-1zM717,334h1v2h-1zM894,118h1v1h-1zM965,118h1v1h-1zM1086,118h1v1h-1zM305,351h1v2h-1zM306,350h1v1h-1zM277,398h1v1h-1zM324,330h1v1h-1zM509,330h1v1h-1zM719,330h1v2h-1zM827,169h1v1h-1zM792,211h1v1h-1zM226,474h1v1h-1zM946,101h1v1h-1zM807,190h1v1h-1zM300,359h1v2h-1zM273,405h1v1h-1zM733,306h1v1h-1zM732,307h1v2h-1zM221,480h1v1h-1zM734,304h1v2h-1zM296,366h1v1h-1zM951,105h1v1h-1zM902,111h1v1h-1zM957,111h1v1h-1zM331,323h1v1h-1zM723,322h1v2h-1zM887,126h1v1h-1zM1152,126h1v1h-1zM884,129h1v2h-1zM1157,129h1v1h-1zM323,331h1v1h-1zM752,272h1v2h-1zM901,112h1v1h-1zM958,112h1v1h-1zM213,489h1v1h-1zM328,326h1v1h-1zM721,326h1v2h-1zM233,466h1v2h-1zM292,372h1v2h-1zM892,120h1v1h-1zM304,353h1v1h-1zM334,320h1v1h-1zM724,320h1v2h-1zM791,212h1v2h-1zM878,138h1v2h-1zM225,475h1v2h-1zM786,219h1v2h-1zM735,302h1v2h-1zM295,367h1v2h-1zM268,413h1v2h-1zM782,225h1v2h-1zM307,348h1v2h-1zM751,274h1v2h-1zM1062,130h1v1h-1zM346,311h1v1h-1zM730,310h1v2h-1zM291,374h1v2h-1zM264,420h1v2h-1zM747,281h1v2h-1zM287,381h1v2h-1zM889,123h1v2h-1zM880,135h1v2h-1zM993,135h1v1h-1zM770,242h1v1h-1zM283,388h1v2h-1zM886,127h1v1h-1zM1066,127h1v1h-1zM765,248h1v1h-1zM311,343h1v1h-1zM896,116h1v1h-1zM963,116h1v1h-1zM1089,116h1v1h-1zM895,117h1v1h-1zM964,117h1v1h-1zM813,181h1v1h-1zM761,255h1v2h-1zM997,138h1v1h-1zM258,430h1v1h-1zM302,356h1v2h-1zM286,383h1v2h-1zM885,128h1v1h-1zM1065,128h1v1h-1zM309,345h1v1h-1zM705,345h1v1h-1zM839,165h1v1h-1zM330,324h1v1h-1zM722,324h1v2h-1zM332,322h1v1h-1zM325,329h1v1h-1zM720,328h1v2h-1zM812,182h1v2h-1zM246,446h1v2h-1zM725,318h1v2h-1zM760,257h1v2h-1zM318,336h1v1h-1zM716,336h1v1h-1zM242,453h1v2h-1zM756,264h1v2h-1zM879,137h1v1h-1zM238,460h1v2h-1zM891,121h1v1h-1zM969,121h1v1h-1zM1144,121h1v1h-1zM843,161h1v1h-1zM952,106h1v1h-1zM214,488h1v1h-1zM731,309h1v1h-1zM796,206h1v1h-1zM900,113h1v1h-1zM959,113h1v1h-1zM826,170h1v1h-1zM241,455h1v1h-1zM755,266h1v2h-1zM728,313h1v2h-1zM881,134h1v1h-1zM1057,134h1v1h-1zM217,484h1v2h-1zM237,462h1v1h-1zM232,468h1v1h-1zM853,154h1v1h-1zM224,477h1v1h-1zM267,415h1v2h-1zM899,114h1v1h-1zM960,114h1v1h-1zM888,125h1v1h-1zM750,276h1v2h-1zM883,131h1v1h-1zM1061,131h1v1h-1zM263,422h1v2h-1zM763,251h1v2h-1zM861,148h1v1h-1zM333,321h1v1h-1zM746,283h1v1h-1zM337,318h1v1h-1zM774,237h1v2h-1zM769,243h1v2h-1zM742,289h1v2h-1zM818,177h1v1h-1zM310,344h1v1h-1zM706,344h1v1h-1zM329,325h1v1h-1zM262,424h1v2h-1zM322,332h1v1h-1zM512,332h1v1h-1zM718,332h1v2h-1zM316,338h1v1h-1zM801,199h1v1h-1zM281,391h1v2h-1zM314,340h1v1h-1zM711,340h1v1h-1zM250,441h1v1h-1zM737,298h1v2h-1zM1090,115h1v1h-1zM218,483h1v1h-1zM800,200h1v2h-1zM780,228h1v2h-1zM736,300h1v2h-1zM795,207h1v2h-1zM338,317h1v1h-1zM726,316h1v2h-1zM341,315h1v1h-1zM727,315h1v1h-1zM771,241h1v1h-1zM973,124h1v1h-1zM1149,124h1v1h-1zM236,463h1v1h-1zM942,98h1v1h-1zM779,230h1v1h-1zM288,379h1v2h-1zM284,386h1v2h-1zM252,438h1v2h-1zM280,393h1v1h-1zM810,185h1v2h-1zM276,399h1v2h-1zM994,136h1v1h-1zM1054,136h1v1h-1zM806,191h1v2h-1zM950,104h1v1h-1zM741,291h1v1h-1zM255,434h1v1h-1zM308,346h1v2h-1zM702,347h1v1h-1zM844,160h1v1h-1zM817,178h1v1h-1zM797,205h1v1h-1zM279,394h1v2h-1zM809,187h1v1h-1zM275,401h1v2h-1zM315,339h1v1h-1zM712,339h1v1h-1zM271,408h1v2h-1zM785,221h1v1h-1zM890,122h1v1h-1zM970,122h1v1h-1zM294,369h1v2h-1zM230,470h1v1h-1zM290,376h1v2h-1zM788,216h1v2h-1zM342,314h1v1h-1zM784,222h1v2h-1zM293,371h1v1h-1zM775,236h1v1h-1zM289,378h1v1h-1zM257,431h1v2h-1zM285,385h1v1h-1zM811,184h1v1h-1zM857,151h1v1h-1zM759,259h1v2h-1zM345,312h1v1h-1zM729,312h1v1h-1zM743,287h1v2h-1zM256,433h1v1h-1zM251,440h1v1h-1zM739,294h1v2h-1zM949,103h1v1h-1zM814,180h1v1h-1zM762,253h1v2h-1zM321,333h1v1h-1zM303,354h1v2h-1zM758,261h1v2h-1zM805,193h1v1h-1zM825,171h1v1h-1zM219,482h1v1h-1zM299,361h1v2h-1zM754,268h1v2h-1zM893,119h1v1h-1zM966,119h1v1h-1zM840,164h1v1h-1zM945,100h1v1h-1zM231,469h1v1h-1zM274,403h1v2h-1zM319,335h1v1h-1zM517,335h1v1h-1zM757,263h1v1h-1zM223,478h1v1h-1zM270,410h1v2h-1zM312,342h1v1h-1zM709,342h1v1h-1zM753,270h1v2h-1zM234,465h1v1h-1zM266,417h1v2h-1zM229,471h1v1h-1zM882,132h1v2h-1zM745,284h1v2h-1zM269,412h1v1h-1zM768,245h1v1h-1zM783,224h1v1h-1zM265,419h1v1h-1zM748,279h1v2h-1zM261,426h1v1h-1zM201,497h1v1h-1zM260,427h1v2h-1zM313,341h1v1h-1zM710,341h1v1h-1zM317,337h1v1h-1zM520,337h1v1h-1zM715,337h1v1h-1zM841,163h1v1h-1zM326,328h1v1h-1zM990,133h1v1h-1zM1058,133h1v1h-1zM794,209h1v1h-1zM789,215h1v1h-1zM824,172h1v1h-1zM848,157h1v1h-1zM298,363h1v1h-1zM821,175h1v1h-1zM235,464h1v1h-1zM828,168h1v1h-1zM222,479h1v1h-1zM327,327h1v1h-1zM504,327h1v1h-1zM858,150h1v1h-1zM202,496h1v1h-1zM772,240h1v1h-1zM767,246h1v1h-1zM740,292h1v2h-1zM906,108h1v1h-1zM954,108h1v1h-1zM764,249h1v2h-1zM245,448h1v1h-1zM823,173h1v1h-1zM297,364h1v2h-1zM953,107h1v1h-1zM208,492h1v1h-1zM244,449h1v2h-1zM464,310h1v1h-1zM790,214h1v1h-1zM240,456h1v2h-1zM802,197h1v2h-1zM738,296h1v2h-1zM216,486h1v1h-1zM798,203h1v2h-1zM793,210h1v1h-1zM243,451h1v2h-1zM239,458h1v2h-1zM749,278h1v1h-1zM777,233h1v1h-1zM776,234h1v2h-1zM804,194h1v2h-1zM842,162h1v1h-1zM249,442h1v2h-1zM205,494h1v1h-1zM822,174h1v1h-1zM803,196h1v1h-1zM228,472h1v1h-1zM272,406h1v2h-1zM220,481h1v1h-1zM215,487h1v1h-1zM778,231h1v2h-1zM773,239h1v1h-1zM854,153h1v1h-1zM744,286h1v1h-1zM198,499h1v1h-1zM254,435h1v2h-1zM282,390h1v1h-1zM905,109h1v1h-1zM955,109h1v1h-1zM278,396h1v2h-1zM808,188h1v2h-1zM301,358h1v1h-1zM799,202h1v1h-1zM248,444h1v1h-1zM838,166h1v1h-1zM787,218h1v1h-1zM845,159h1v1h-1zM227,473h1v1h-1zM781,227h1v1h-1zM766,247h1v1h-1zM259,429h1v1h-1zM247,445h1v1h-1zM253,437h1v1h-1z" fill="#ff0000" shape-rendering="crispEdges"/>
<path d="M305,304h3v1h-3zM320,304h2v1h-2zM391,304h4v1h-4zM501,351h2v1h-2zM567,351h2v1h-2zM617,351h6v1h-6zM649,351h14v1h-14zM679,351h2v1h-2zM1050,114h2v1h-2zM908,81h2v1h-2zM922,93h2v1h-2zM303,305h2v1h-2zM322,305h2v1h-2zM385,305h6v1h-6zM102,511h2v1h-2zM143,511h2v1h-2zM900,78h3v1h-3zM769,161h2v1h-2zM978,161h2v1h-2zM994,161h2v1h-2zM188,486h10v1h-10zM516,357h5v1h-5zM527,357h2v1h-2zM1125,125h2v1h-2zM297,307h3v1h-3zM327,307h2v1h-2zM377,307h3v1h-3zM308,303h5v1h-5zM318,303h2v1h-2zM395,303h6v1h-6zM409,303h8v1h-8zM449,303h2v1h-2zM508,354h3v1h-3zM537,354h6v1h-6zM555,354h4v1h-4zM628,354h5v1h-5zM700,345h2v1h-2zM497,348h2v1h-2zM575,348h4v1h-4zM585,348h22v1h-22zM689,348h6v1h-6zM487,340h2v1h-2zM697,346h3v1h-3zM503,352h2v1h-2zM563,352h4v1h-4zM623,352h2v1h-2zM641,352h8v1h-8zM663,352h4v1h-4zM673,352h6v1h-6zM572,349h3v1h-3zM607,349h4v1h-4zM684,349h5v1h-5zM57,508h24v1h-24zM147,508h2v1h-2zM1046,116h2v1h-2zM1063,107h2v1h-2zM1075,107h6v1h-6zM1107,107h2v1h-2zM40,503h2v1h-2zM965,155h2v1h-2zM1003,155h2v1h-2zM293,309h2v1h-2zM332,309h13v1h-13zM353,309h8v1h-8zM369,309h6v1h-6zM1054,112h2v1h-2zM89,510h13v1h-13zM433,300h8v1h-8zM969,157h3v1h-3zM491,343h2v1h-2zM816,184h2v1h-2zM115,517h19v1h-19zM172,492h3v1h-3zM818,185h2v1h-2zM810,181h2v1h-2zM569,350h3v1h-3zM611,350h6v1h-6zM681,350h3v1h-3zM1065,106h3v1h-3zM1071,106h4v1h-4zM1081,106h6v1h-6zM1137,131h2v1h-2zM1132,128h2v1h-2zM972,158h2v1h-2zM999,158h2v1h-2zM1027,132h2v1h-2zM1139,132h2v1h-2zM905,80h3v1h-3zM300,306h3v1h-3zM324,306h3v1h-3zM380,306h5v1h-5zM579,347h6v1h-6zM695,347h2v1h-2zM505,353h3v1h-3zM559,353h4v1h-4zM625,353h3v1h-3zM633,353h8v1h-8zM667,353h6v1h-6zM1023,135h2v1h-2zM44,505h3v1h-3zM153,505h3v1h-3zM203,482h2v1h-2zM9,501h8v1h-8zM33,501h5v1h-5zM5,502h4v1h-4zM38,502h2v1h-2zM924,94h2v1h-2zM785,171h5v1h-5zM107,514h2v1h-2zM138,514h2v1h-2zM111,516h4v1h-4zM134,516h2v1h-2zM766,163h2v1h-2zM983,163h4v1h-4zM990,163h2v1h-2zM513,356h3v1h-3zM529,356h3v1h-3zM547,356h4v1h-4zM1091,104h4v1h-4zM1103,104h2v1h-2zM1134,129h2v1h-2zM81,509h8v1h-8zM313,302h5v1h-5zM401,302h8v1h-8zM417,302h8v1h-8zM42,504h2v1h-2zM156,504h2v1h-2zM441,299h5v1h-5zM425,301h8v1h-8zM797,177h4v1h-4zM1121,122h2v1h-2zM1095,103h4v1h-4zM295,308h2v1h-2zM329,308h3v1h-3zM345,308h8v1h-8zM375,308h2v1h-2zM361,310h8v1h-8zM457,310h2v1h-2zM17,500h16v1h-16zM974,159h2v1h-2zM771,160h2v1h-2zM976,160h2v1h-2zM996,160h2v1h-2zM967,156h2v1h-2zM177,490h3v1h-3zM1059,109h2v1h-2zM814,183h2v1h-2zM806,179h2v1h-2zM808,180h2v1h-2zM521,358h6v1h-6zM1043,118h2v1h-2zM51,507h6v1h-6zM149,507h2v1h-2zM886,79h2v1h-2zM903,79h2v1h-2zM511,355h2v1h-2zM532,355h5v1h-5zM543,355h4v1h-4zM551,355h4v1h-4zM987,164h3v1h-3zM1099,102h3v1h-3zM1068,105h3v1h-3zM1087,105h4v1h-4zM820,186h2v1h-2zM980,162h3v1h-3zM992,162h2v1h-2zM812,182h2v1h-2zM920,92h2v1h-2zM1061,108h2v1h-2zM1127,126h2v1h-2zM929,98h2v1h-2zM201,483h2v1h-2zM801,178h5v1h-5zM47,506h4v1h-4zM151,506h2v1h-2zM109,515h2v1h-2zM136,515h2v1h-2zM918,91h2v1h-2zM1039,121h2v1h-2zM1048,115h2v1h-2zM893,75h2v1h-2zM180,489h3v1h-3zM1057,110h2v1h-2zM1052,113h2v1h-2zM168,494h2v1h-2zM889,77h2v1h-2zM897,77h3v1h-3zM175,491h2v1h-2zM795,176h2v1h-2zM791,173h2v1h-2zM781,170h4v1h-4zM166,495h2v1h-2zM891,76h2v1h-2zM895,76h2v1h-2zM185,487h3v1h-3zM1129,127h3v1h-3zM198,485h2v1h-2zM105,513h2v1h-2zM140,513h2v1h-2zM183,488h2v1h-2zM170,493h2v1h-2zM451,304h1v1h-1zM720,304h1v4h-1zM269,351h1v3h-1zM741,232h1v3h-1zM863,114h1v2h-1zM940,113h1v2h-1zM1114,114h1v1h-1zM884,81h1v2h-1zM859,120h1v2h-1zM944,120h1v2h-1zM1041,120h1v1h-1zM1119,120h1v1h-1zM878,92h1v2h-1zM452,305h1v1h-1zM222,462h1v2h-1zM910,82h1v1h-1zM888,78h1v1h-1zM847,142h1v2h-1zM955,141h1v2h-1zM1016,142h1v1h-1zM1148,142h1v2h-1zM774,160h1v2h-1zM838,161h1v2h-1zM217,468h1v2h-1zM729,271h1v2h-1zM242,418h1v3h-1zM267,356h1v2h-1zM856,125h1v1h-1zM946,124h1v2h-1zM1035,125h1v1h-1zM853,130h1v2h-1zM949,130h1v2h-1zM1030,130h1v1h-1zM1136,130h1v1h-1zM454,307h1v1h-1zM746,216h1v3h-1zM721,299h1v5h-1zM268,354h1v2h-1zM736,249h1v3h-1zM262,368h1v2h-1zM276,335h1v2h-1zM483,336h1v1h-1zM707,336h1v1h-1zM272,344h1v3h-1zM494,345h1v1h-1zM271,347h1v2h-1zM275,337h1v2h-1zM484,337h1v1h-1zM706,337h1v2h-1zM274,339h1v3h-1zM704,340h1v2h-1zM495,346h1v1h-1zM287,317h1v1h-1zM465,317h1v2h-1zM717,317h1v3h-1zM270,349h1v2h-1zM499,349h1v1h-1zM733,259h1v3h-1zM259,375h1v2h-1zM283,323h1v2h-1zM471,324h1v1h-1zM714,324h1v2h-1zM862,116h1v1h-1zM942,116h1v2h-1zM1115,115h1v2h-1zM848,140h1v2h-1zM954,139h1v2h-1zM1018,140h1v1h-1zM1146,140h1v1h-1zM869,107h1v1h-1zM936,106h1v2h-1zM158,503h1v1h-1zM861,117h1v1h-1zM1045,117h1v1h-1zM1116,117h1v1h-1zM841,155h1v2h-1zM1157,155h1v1h-1zM845,146h1v3h-1zM959,147h1v2h-1zM1010,148h1v1h-1zM1152,148h1v1h-1zM1017,141h1v1h-1zM1147,141h1v1h-1zM456,309h1v1h-1zM719,308h1v5h-1zM865,112h1v1h-1zM939,111h1v2h-1zM1112,112h1v1h-1zM145,510h1v1h-1zM446,300h1v1h-1zM744,222h1v3h-1zM1011,147h1v1h-1zM1151,147h1v1h-1zM273,342h1v2h-1zM490,342h1v1h-1zM703,342h1v1h-1zM840,157h1v2h-1zM1001,157h1v1h-1zM842,153h1v2h-1zM963,152h1v2h-1zM1006,153h1v1h-1zM1156,153h1v2h-1zM702,343h1v2h-1zM286,318h1v2h-1zM466,319h1v1h-1zM756,183h1v3h-1zM823,183h1v2h-1zM822,185h1v1h-1zM757,180h1v3h-1zM825,181h1v1h-1zM500,350h1v1h-1zM870,105h1v2h-1zM1106,106h1v1h-1zM1029,131h1v1h-1zM883,83h1v2h-1zM912,84h1v1h-1zM749,206h1v3h-1zM854,128h1v2h-1zM948,128h1v2h-1zM1032,128h1v1h-1zM288,316h1v1h-1zM464,316h1v1h-1zM718,313h1v4h-1zM852,132h1v2h-1zM950,132h1v2h-1zM885,80h1v1h-1zM743,225h1v4h-1zM453,306h1v1h-1zM496,347h1v1h-1zM486,339h1v1h-1zM705,339h1v1h-1zM851,134h1v2h-1zM951,134h1v2h-1zM1142,134h1v2h-1zM881,87h1v1h-1zM914,87h1v1h-1zM160,501h1v1h-1zM849,138h1v2h-1zM1019,139h1v1h-1zM1145,138h1v2h-1zM159,502h1v1h-1zM956,143h1v2h-1zM1015,143h1v1h-1zM748,209h1v3h-1zM877,94h1v1h-1zM747,212h1v4h-1zM846,144h1v2h-1zM1014,144h1v1h-1zM1149,144h1v1h-1zM738,242h1v3h-1zM762,170h1v2h-1zM832,171h1v2h-1zM755,186h1v4h-1zM776,163h1v1h-1zM837,163h1v2h-1zM871,103h1v2h-1zM935,104h1v2h-1zM252,389h1v3h-1zM1031,129h1v1h-1zM264,363h1v3h-1zM146,509h1v1h-1zM844,149h1v2h-1zM961,150h1v1h-1zM1009,149h1v2h-1zM1153,149h1v2h-1zM448,302h1v1h-1zM211,475h1v1h-1zM735,252h1v3h-1zM752,196h1v3h-1zM239,427h1v3h-1zM447,301h1v1h-1zM759,176h1v2h-1zM828,177h1v1h-1zM281,326h1v2h-1zM473,326h1v1h-1zM713,326h1v1h-1zM858,122h1v1h-1zM945,122h1v2h-1zM1038,122h1v1h-1zM164,497h1v1h-1zM934,102h1v2h-1zM1102,103h1v1h-1zM455,308h1v1h-1zM277,333h1v2h-1zM480,333h1v1h-1zM709,333h1v1h-1zM960,149h1v1h-1zM292,310h1v2h-1zM251,392h1v3h-1zM161,500h1v1h-1zM773,159h1v1h-1zM839,159h1v2h-1zM998,159h1v1h-1zM1002,156h1v1h-1zM867,109h1v2h-1zM938,109h1v2h-1zM1110,109h1v1h-1zM724,286h1v4h-1zM470,323h1v1h-1zM715,322h1v2h-1zM751,199h1v4h-1zM758,178h1v2h-1zM827,178h1v2h-1zM826,180h1v1h-1zM866,111h1v1h-1zM1056,111h1v1h-1zM1111,110h1v2h-1zM280,328h1v1h-1zM475,328h1v1h-1zM712,327h1v2h-1zM266,358h1v3h-1zM482,335h1v1h-1zM708,334h1v2h-1zM843,151h1v2h-1zM962,151h1v1h-1zM1008,151h1v1h-1zM1154,151h1v1h-1zM291,312h1v1h-1zM460,312h1v1h-1zM250,395h1v3h-1zM1007,152h1v1h-1zM1155,152h1v1h-1zM860,118h1v2h-1zM943,118h1v2h-1zM1117,118h1v1h-1zM258,377h1v2h-1zM282,325h1v1h-1zM472,325h1v1h-1zM880,88h1v2h-1zM916,89h1v1h-1zM278,331h1v2h-1zM479,332h1v1h-1zM710,331h1v2h-1zM857,123h1v2h-1zM1036,124h1v1h-1zM1124,124h1v1h-1zM241,421h1v3h-1zM284,321h1v2h-1zM468,321h1v1h-1zM716,320h1v2h-1zM459,311h1v1h-1zM248,400h1v3h-1zM765,164h1v2h-1zM777,164h1v2h-1zM953,138h1v1h-1zM1020,138h1v1h-1zM732,262h1v3h-1zM474,327h1v1h-1zM245,409h1v3h-1zM872,102h1v1h-1zM481,334h1v1h-1zM1105,105h1v1h-1zM850,136h1v2h-1zM952,136h1v2h-1zM1022,136h1v1h-1zM1143,136h1v1h-1zM227,453h1v2h-1zM723,290h1v5h-1zM223,460h1v2h-1zM764,166h1v2h-1zM778,166h1v1h-1zM836,165h1v2h-1zM731,265h1v3h-1zM730,268h1v3h-1zM876,95h1v2h-1zM926,95h1v1h-1zM244,412h1v3h-1zM768,162h1v1h-1zM775,162h1v1h-1zM493,344h1v1h-1zM958,146h1v1h-1zM1012,146h1v1h-1zM1150,145h1v2h-1zM824,182h1v1h-1zM1037,123h1v1h-1zM1123,123h1v1h-1zM235,438h1v2h-1zM868,108h1v1h-1zM937,108h1v1h-1zM1109,108h1v1h-1zM855,126h1v2h-1zM947,126h1v2h-1zM1034,126h1v1h-1zM289,314h1v2h-1zM462,314h1v1h-1zM726,279h1v3h-1zM463,315h1v1h-1zM489,341h1v1h-1zM247,403h1v3h-1zM234,440h1v2h-1zM230,448h1v2h-1zM725,282h1v4h-1zM226,455h1v2h-1zM882,85h1v2h-1zM913,85h1v2h-1zM875,97h1v2h-1zM874,99h1v1h-1zM931,99h1v1h-1zM254,385h1v2h-1zM957,145h1v1h-1zM1013,145h1v1h-1zM229,450h1v1h-1zM209,477h1v1h-1zM225,457h1v1h-1zM879,90h1v2h-1zM927,96h1v1h-1zM221,464h1v1h-1zM1120,121h1v1h-1zM941,115h1v1h-1zM216,470h1v1h-1zM162,499h1v1h-1zM253,387h1v2h-1zM265,361h1v2h-1zM779,167h1v1h-1zM835,167h1v1h-1zM760,174h1v2h-1zM793,174h1v1h-1zM830,174h1v2h-1zM873,100h1v2h-1zM933,101h1v1h-1zM285,320h1v1h-1zM467,320h1v1h-1zM734,255h1v4h-1zM864,113h1v1h-1zM1113,113h1v1h-1zM928,97h1v1h-1zM1042,119h1v1h-1zM1118,119h1v1h-1zM231,446h1v2h-1zM964,154h1v1h-1zM1005,154h1v1h-1zM279,329h1v2h-1zM476,329h1v1h-1zM711,329h1v2h-1zM737,245h1v4h-1zM754,190h1v3h-1zM469,322h1v1h-1zM238,430h1v3h-1zM763,168h1v2h-1zM780,168h1v2h-1zM834,168h1v2h-1zM829,176h1v1h-1zM794,175h1v1h-1zM1021,137h1v1h-1zM1144,137h1v1h-1zM208,478h1v1h-1zM224,458h1v2h-1zM237,433h1v3h-1zM761,172h1v2h-1zM831,173h1v1h-1zM915,88h1v1h-1zM740,235h1v4h-1zM220,465h1v1h-1zM833,170h1v1h-1zM215,471h1v1h-1zM261,370h1v3h-1zM165,496h1v1h-1zM243,415h1v3h-1zM1026,133h1v1h-1zM1141,133h1v1h-1zM1025,134h1v1h-1zM290,313h1v1h-1zM461,313h1v1h-1zM917,90h1v1h-1zM246,406h1v3h-1zM750,203h1v3h-1zM932,100h1v1h-1zM485,338h1v1h-1zM790,172h1v1h-1zM728,273h1v3h-1zM753,193h1v3h-1zM104,512h1v1h-1zM142,512h1v1h-1zM478,331h1v1h-1zM727,276h1v3h-1zM722,295h1v4h-1zM200,484h1v1h-1zM739,239h1v3h-1zM1033,127h1v1h-1zM477,330h1v1h-1zM742,229h1v3h-1zM213,473h1v1h-1zM163,498h1v1h-1zM745,219h1v3h-1zM249,398h1v2h-1zM236,436h1v2h-1zM257,379h1v2h-1zM240,424h1v3h-1zM260,373h1v2h-1zM256,381h1v2h-1zM911,83h1v1h-1zM207,479h1v1h-1zM255,383h1v2h-1zM219,466h1v1h-1zM214,472h1v1h-1zM205,481h1v1h-1zM233,442h1v2h-1zM232,444h1v2h-1zM228,451h1v2h-1zM206,480h1v1h-1zM218,467h1v1h-1zM263,366h1v2h-1zM210,476h1v1h-1zM212,474h1v1h-1z" fill="#0000cd" shape-rendering="crispEdges"/>
</g>
<g shape-rendering="crispEdges">
<rect x="5" y="41" width="1415" height="3" fill="#ff0000"/>
<rect x="4" y="39" width="7" height="7" fill="#ff0000"/>
<rect x="7" y="42" width="1" height="1" fill="#fff"/>
<rect x="1413" y="39" width="7" height="7" fill="#ff0000"/>
<rect x="1416" y="42" width="1" height="1" fill="#fff"/>
<rect x="5" y="137" width="1415" height="3" fill="#ff0000"/>
<rect x="4" y="135" width="7" height="7" fill="#ff0000"/>
<rect x="7" y="138" width="1" height="1" fill="#fff"/>
<rect x="1413" y="135" width="7" height="7" fill="#ff0000"/>
<rect x="1416" y="138" width="1" height="1" fill="#fff"/>
<rect x="5" y="233" width="1415" height="3" fill="#00ff00"/>
<rect x="4" y="231" width="7" height="7" fill="#00ff00"/>
<rect x="7" y="234" width="1" height="1" fill="#fff"/>
<rect x="1413" y="231" width="7" height="7" fill="#00ff00"/>
<rect x="1416" y="234" width="1" height="1" fill="#fff"/>
<rect x="5" y="329" width="1415" height="3" fill="#0000dd"/>
<rect x="4" y="327" width="7" height="7" fill="#0000dd"/>
<rect x="7" y="330" width="1" height="1" fill="#fff"/>
<rect x="1413" y="327" width="7" height="7" fill="#0000dd"/>
<rect x="1416" y="330" width="1" height="1" fill="#fff"/>
<rect x="5" y="406" width="1415" height="3" fill="#0000dd"/>
<rect x="4" y="404" width="7" height="7" fill="#0000dd"/>
<rect x="7" y="407" width="1" height="1" fill="#fff"/>
<rect x="1413" y="404" width="7" height="7" fill="#0000dd"/>
<rect x="1416" y="407" width="1" height="1" fill="#fff"/>
</g>
<clipPath id="cmacd"><rect x="5" y="563" width="1415" height="102"/></clipPath>
<g clip-path="url(#cmacd)" shape-rendering="crispEdges">
<rect x="5" y="648" width="1" height="6" fill="#c0c0c0"/>
<rect x="13" y="648" width="1" height="5" fill="#c0c0c0"/>
<rect x="21" y="648" width="1" height="5" fill="#c0c0c0"/>
<rect x="29" y="648" width="1" height="5" fill="#c0c0c0"/>
<rect x="37" y="648" width="1" height="6" fill="#c0c0c0"/>
<rect x="45" y="648" width="1" height="7" fill="#c0c0c0"/>
<rect x="53" y="648" width="1" height="6" fill="#c0c0c0"/>
<rect x="61" y="648" width="1" height="6" fill="#c0c0c0"/>
<rect x="69" y="648" width="1" height="6" fill="#c0c0c0"/>
<rect x="77" y="648" width="1" height="4" fill="#c0c0c0"/>
<rect x="85" y="648" width="1" height="5" fill="#c0c0c0"/>
<rect x="93" y="648" width="1" height="6" fill="#c0c0c0"/>
<rect x="101" y="648" width="1" height="6" fill="#c0c0c0"/>
<rect x="109" y="648" width="1" height="10" fill="#c0c0c0"/>
<rect x="117" y="648" width="1" height="10" fill="#c0c0c0"/>
<rect x="125" y="648" width="1" height="8" fill="#c0c0c0"/>
<rect x="133" y="648" width="1" height="6" fill="#c0c0c0"/>
<rect x="141" y="648" width="1" height="3" fill="#c0c0c0"/>
<rect x="149" y="647" width="1" height="2" fill="#c0c0c0"/>
<rect x="157" y="645" width="1" height="4" fill="#c0c0c0"/>
<rect x="165" y="644" width="1" height="5" fill="#c0c0c0"/>
<rect x="173" y="643" width="1" height="6" fill="#c0c0c0"/>
<rect x="181" y="643" width="1" height="6" fill="#c0c0c0"/>
<rect x="189" y="641" width="1" height="8" fill="#c0c0c0"/>
<rect x="197" y="641" width="1" height="8" fill="#c0c0c0"/>
<rect x="205" y="635" width="1" height="14" fill="#c0c0c0"/>
<rect x="213" y="630" width="1" height="19" fill="#c0c0c0"/>
<rect x="221" y="625" width="1" height="24" fill="#c0c0c0"/>
<rect x="229" y="617" width="1" height="32" fill="#c0c0c0"/>
<rect x="237" y="611" width="1" height="38" fill="#c0c0c0"/>
<rect x="245" y="598" width="1" height="51" fill="#c0c0c0"/>
<rect x="253" y="590" width="1" height="59" fill="#c0c0c0"/>
<rect x="261" y="585" width="1" height="64" fill="#c0c0c0"/>
<rect x="269" y="578" width="1" height="71" fill="#c0c0c0"/>
<rect x="277" y="572" width="1" height="77" fill="#c0c0c0"/>
<rect x="285" y="570" width="1" height="79" fill="#c0c0c0"/>
<rect x="293" y="569" width="1" height="80" fill="#c0c0c0"/>
<rect x="301" y="569" width="1" height="80" fill="#c0c0c0"/>
<rect x="309" y="571" width="1" height="78" fill="#c0c0c0"/>
<rect x="317" y="574" width="1" height="75" fill="#c0c0c0"/>
<rect x="325" y="579" width="1" height="70" fill="#c0c0c0"/>
<rect x="333" y="582" width="1" height="67" fill="#c0c0c0"/>
<rect x="341" y="583" width="1" height="66" fill="#c0c0c0"/>
<rect x="349" y="585" width="1" height="64" fill="#c0c0c0"/>
<rect x="357" y="587" width="1" height="62" fill="#c0c0c0"/>
<rect x="365" y="592" width="1" height="57" fill="#c0c0c0"/>
<rect x="373" y="595" width="1" height="54" fill="#c0c0c0"/>
<rect x="381" y="598" width="1" height="51" fill="#c0c0c0"/>
<rect x="389" y="600" width="1" height="49" fill="#c0c0c0"/>
<rect x="397" y="601" width="1" height="48" fill="#c0c0c0"/>
<rect x="405" y="602" width="1" height="47" fill="#c0c0c0"/>
<rect x="413" y="606" width="1" height="43" fill="#c0c0c0"/>
<rect x="421" y="609" width="1" height="40" fill="#c0c0c0"/>
<rect x="429" y="611" width="1" height="38" fill="#c0c0c0"/>
<rect x="437" y="613" width="1" height="36" fill="#c0c0c0"/>
<rect x="445" y="615" width="1" height="34" fill="#c0c0c0"/>
<rect x="453" y="622" width="1" height="27" fill="#c0c0c0"/>
<rect x="461" y="627" width="1" height="22" fill="#c0c0c0"/>
<rect x="469" y="635" width="1" height="14" fill="#c0c0c0"/>
<rect x="477" y="641" width="1" height="8" fill="#c0c0c0"/>
<rect x="485" y="645" width="1" height="4" fill="#c0c0c0"/>
<rect x="493" y="647" width="1" height="2" fill="#c0c0c0"/>
<rect x="501" y="648" width="1" height="1" fill="#c0c0c0"/>
<rect x="509" y="648" width="1" height="3" fill="#c0c0c0"/>
<rect x="517" y="648" width="1" height="5" fill="#c0c0c0"/>
<rect x="525" y="648" width="1" height="8" fill="#c0c0c0"/>
<rect x="533" y="648" width="1" height="8" fill="#c0c0c0"/>
<rect x="541" y="648" width="1" height="7" fill="#c0c0c0"/>
<rect x="549" y="648" width="1" height="8" fill="#c0c0c0"/>
<rect x="557" y="648" width="1" height="6" fill="#c0c0c0"/>
<rect x="565" y="648" width="1" height="5" fill="#c0c0c0"/>
<rect x="573" y="648" width="1" height="3" fill="#c0c0c0"/>
<rect x="581" y="648" width="1" height="5" fill="#c0c0c0"/>
<rect x="589" y="648" width="1" height="5" fill="#c0c0c0"/>
<rect x="597" y="648" width="1" height="5" fill="#c0c0c0"/>
<rect x="605" y="648" width="1" height="6" fill="#c0c0c0"/>
<rect x="613" y="648" width="1" height="5" fill="#c0c0c0"/>
<rect x="621" y="648" width="1" height="5" fill="#c0c0c0"/>
<rect x="629" y="648" width="1" height="6" fill="#c0c0c0"/>
<rect x="637" y="648" width="1" height="5" fill="#c0c0c0"/>
<rect x="645" y="648" width="1" height="4" fill="#c0c0c0"/>
<rect x="653" y="648" width="1" height="4" fill="#c0c0c0"/>
<rect x="661" y="648" width="1" height="4" fill="#c0c0c0"/>
<rect x="669" y="648" width="1" height="5" fill="#c0c0c0"/>
<rect x="677" y="648" width="1" height="4" fill="#c0c0c0"/>
<rect x="685" y="648" width="1" height="2" fill="#c0c0c0"/>
<rect x="693" y="648" width="1" height="1" fill="#c0c0c0"/>
<rect x="701" y="646" width="1" height="3" fill="#c0c0c0"/>
<rect x="709" y="637" width="1" height="12" fill="#c0c0c0"/>
<rect x="717" y="629" width="1" height="20" fill="#c0c0c0"/>
<rect x="725" y="605" width="1" height="44" fill="#c0c0c0"/>
<rect x="733" y="596" width="1" height="53" fill="#c0c0c0"/>
<rect x="741" y="586" width="1" height="63" fill="#c0c0c0"/>
<rect x="749" y="579" width="1" height="70" fill="#c0c0c0"/>
<rect x="757" y="573" width="1" height="76" fill="#c0c0c0"/>
<rect x="765" y="569" width="1" height="80" fill="#c0c0c0"/>
<rect x="773" y="576" width="1" height="73" fill="#c0c0c0"/>
<rect x="781" y="579" width="1" height="70" fill="#c0c0c0"/>
<rect x="789" y="582" width="1" height="67" fill="#c0c0c0"/>
<rect x="797" y="585" width="1" height="64" fill="#c0c0c0"/>
<rect x="805" y="585" width="1" height="64" fill="#c0c0c0"/>
<rect x="813" y="586" width="1" height="63" fill="#c0c0c0"/>
<rect x="821" y="588" width="1" height="61" fill="#c0c0c0"/>
<rect x="829" y="588" width="1" height="61" fill="#c0c0c0"/>
<rect x="837" y="583" width="1" height="66" fill="#c0c0c0"/>
<rect x="845" y="576" width="1" height="73" fill="#c0c0c0"/>
<rect x="853" y="572" width="1" height="77" fill="#c0c0c0"/>
<rect x="861" y="569" width="1" height="80" fill="#c0c0c0"/>
<rect x="869" y="571" width="1" height="78" fill="#c0c0c0"/>
<rect x="877" y="571" width="1" height="78" fill="#c0c0c0"/>
<rect x="885" y="568" width="1" height="81" fill="#c0c0c0"/>
<rect x="893" y="569" width="1" height="80" fill="#c0c0c0"/>
<rect x="901" y="574" width="1" height="75" fill="#c0c0c0"/>
<rect x="909" y="580" width="1" height="69" fill="#c0c0c0"/>
<rect x="917" y="589" width="1" height="60" fill="#c0c0c0"/>
<rect x="925" y="595" width="1" height="54" fill="#c0c0c0"/>
<rect x="933" y="601" width="1" height="48" fill="#c0c0c0"/>
<rect x="941" y="609" width="1" height="40" fill="#c0c0c0"/>
<rect x="949" y="619" width="1" height="30" fill="#c0c0c0"/>
<rect x="957" y="629" width="1" height="20" fill="#c0c0c0"/>
<rect x="965" y="635" width="1" height="14" fill="#c0c0c0"/>
<rect x="973" y="638" width="1" height="11" fill="#c0c0c0"/>
<rect x="981" y="639" width="1" height="10" fill="#c0c0c0"/>
<rect x="989" y="639" width="1" height="10" fill="#c0c0c0"/>
<rect x="997" y="637" width="1" height="12" fill="#c0c0c0"/>
<rect x="1005" y="637" width="1" height="12" fill="#c0c0c0"/>
<rect x="1013" y="637" width="1" height="12" fill="#c0c0c0"/>
<rect x="1021" y="635" width="1" height="14" fill="#c0c0c0"/>
<rect x="1029" y="634" width="1" height="15" fill="#c0c0c0"/>
<rect x="1037" y="630" width="1" height="19" fill="#c0c0c0"/>
<rect x="1045" y="628" width="1" height="21" fill="#c0c0c0"/>
<rect x="1053" y="626" width="1" height="23" fill="#c0c0c0"/>
<rect x="1061" y="626" width="1" height="23" fill="#c0c0c0"/>
<rect x="1069" y="627" width="1" height="22" fill="#c0c0c0"/>
<rect x="1077" y="631" width="1" height="18" fill="#c0c0c0"/>
<rect x="1085" y="631" width="1" height="18" fill="#c0c0c0"/>
<rect x="1093" y="628" width="1" height="21" fill="#c0c0c0"/>
<rect x="1101" y="627" width="1" height="22" fill="#c0c0c0"/>
<rect x="1109" y="632" width="1" height="17" fill="#c0c0c0"/>
<rect x="1117" y="639" width="1" height="10" fill="#c0c0c0"/>
<rect x="1125" y="646" width="1" height="3" fill="#c0c0c0"/>
<rect x="1133" y="648" width="1" height="1" fill="#c0c0c0"/>
<rect x="1141" y="648" width="1" height="2" fill="#c0c0c0"/>
<rect x="1149" y="648" width="1" height="5" fill="#c0c0c0"/>
<rect x="1157" y="648" width="1" height="8" fill="#c0c0c0"/>
</g>
<g clip-path="url(#cmacd)">
<path d="M53,654h3v1h-3zM59,654h3v1h-3zM65,654h3v1h-3zM71,654h2v1h-2zM89,654h3v1h-3zM95,654h3v1h-3zM101,654h3v1h-3zM107,654h3v1h-3zM137,654h3v1h-3zM143,654h3v1h-3zM149,654h3v1h-3zM563,654h3v1h-3zM569,654h3v1h-3zM575,654h3v1h-3zM581,654h3v1h-3zM587,654h3v1h-3zM593,654h3v1h-3zM599,654h3v1h-3zM605,654h3v1h-3zM395,591h3v1h-3zM777,591h2v1h-2zM29,656h3v1h-3zM35,655h3v1h-3zM41,655h3v1h-3zM47,655h2v1h-2zM113,655h3v1h-3zM119,655h3v1h-3zM125,655h3v1h-3zM131,655h3v1h-3zM299,583h2v1h-2zM372,583h2v1h-2zM789,583h2v1h-2zM837,583h3v1h-3zM849,583h3v1h-3zM539,650h3v1h-3zM287,592h2v1h-2zM951,592h2v1h-2zM77,653h3v1h-3zM83,653h3v1h-3zM155,653h3v1h-3zM557,653h3v1h-3zM611,653h3v1h-3zM617,653h3v1h-3zM623,653h3v1h-3zM629,653h3v1h-3zM635,653h3v1h-3zM641,653h3v1h-3zM647,653h3v1h-3zM653,653h3v1h-3zM659,653h3v1h-3zM665,653h3v1h-3zM671,653h3v1h-3zM677,653h3v1h-3zM1017,636h3v1h-3zM1023,636h2v1h-2zM1035,636h3v1h-3zM1137,636h3v1h-3zM215,640h3v1h-3zM449,608h3v1h-3zM969,608h2v1h-2zM831,582h2v1h-2zM855,582h3v1h-3zM795,581h3v1h-3zM825,581h2v1h-2zM861,581h3v1h-3zM934,581h2v1h-2zM1053,634h2v1h-2zM1131,634h3v1h-3zM491,628h2v1h-2zM1101,628h3v1h-3zM1107,628h3v1h-3zM185,648h2v1h-2zM533,648h2v1h-2zM713,648h2v1h-2zM317,575h3v1h-3zM921,575h2v1h-2zM1000,629h2v1h-2zM1089,629h3v1h-3zM1095,629h2v1h-2zM1113,629h2v1h-2zM443,606h3v1h-3zM203,643h3v1h-3zM928,578h2v1h-2zM306,579h2v1h-2zM359,579h3v1h-3zM807,579h3v1h-3zM813,579h3v1h-3zM873,579h2v1h-2zM173,651h2v1h-2zM545,651h2v1h-2zM701,651h2v1h-2zM1029,637h3v1h-3zM737,631h2v1h-2zM1065,631h3v1h-3zM1071,631h2v1h-2zM1119,631h3v1h-3zM377,585h3v1h-3zM222,638h2v1h-2zM510,638h2v1h-2zM1143,638h3v1h-3zM383,587h2v1h-2zM413,596h2v1h-2zM281,597h2v1h-2zM347,576h3v1h-3zM885,576h2v1h-2zM17,658h2v1h-2zM228,635h2v1h-2zM504,635h2v1h-2zM1012,635h2v1h-2zM1041,635h3v1h-3zM1047,635h2v1h-2zM389,589h2v1h-2zM1077,630h3v1h-3zM1083,630h3v1h-3zM522,644h2v1h-2zM161,652h3v1h-3zM167,652h2v1h-2zM551,652h2v1h-2zM683,652h3v1h-3zM689,652h3v1h-3zM695,652h2v1h-2zM474,619h2v1h-2zM323,574h3v1h-3zM329,574h3v1h-3zM335,574h3v1h-3zM341,574h2v1h-2zM891,574h3v1h-3zM915,574h3v1h-3zM425,601h3v1h-3zM843,584h3v1h-3zM940,584h2v1h-2zM233,633h3v1h-3zM455,610h2v1h-2zM498,632h2v1h-2zM1006,632h2v1h-2zM1059,632h3v1h-3zM1125,632h2v1h-2zM897,573h3v1h-3zM903,573h2v1h-2zM994,626h2v1h-2zM365,580h2v1h-2zM801,580h2v1h-2zM819,580h3v1h-3zM867,580h3v1h-3zM311,577h2v1h-2zM353,577h2v1h-2zM879,577h3v1h-3zM437,604h2v1h-2zM462,613h2v1h-2zM975,613h2v1h-2zM431,603h3v1h-3zM251,622h2v1h-2zM480,622h2v1h-2zM987,622h2v1h-2zM486,625h2v1h-2zM407,595h3v1h-3zM401,593h3v1h-3zM909,572h2v1h-2zM179,649h3v1h-3zM707,649h3v1h-3zM191,646h3v1h-3zM527,646h2v1h-2zM5,660h3v1h-3zM1149,639h2v1h-2zM11,659h3v1h-3zM197,645h2v1h-2zM209,642h2v1h-2zM1156,642h2v1h-2zM23,657h2v1h-2zM420,599h2v1h-2zM468,616h2v1h-2zM516,641h2v1h-2zM439,605h1v1h-1zM49,654h1v1h-1zM289,591h1v1h-1zM25,656h1v1h-1zM833,583h1v1h-1zM939,583h1v1h-1zM175,650h1v1h-1zM703,650h1v1h-1zM73,653h1v1h-1zM553,653h1v1h-1zM227,636h1v1h-1zM732,636h1v1h-1zM515,640h1v1h-1zM727,640h1v1h-1zM1151,640h1v1h-1zM269,608h1v1h-1zM760,608h1v1h-1zM301,582h1v1h-1zM371,582h1v1h-1zM791,582h1v1h-1zM827,582h1v1h-1zM367,581h1v1h-1zM503,634h1v1h-1zM1011,634h1v1h-1zM1049,634h1v1h-1zM999,628h1v1h-1zM1097,628h1v1h-1zM276,602h1v1h-1zM765,602h1v1h-1zM963,602h1v1h-1zM343,575h1v1h-1zM887,575h1v1h-1zM241,629h1v1h-1zM493,629h1v1h-1zM271,606h1v1h-1zM761,606h1v2h-1zM521,643h1v1h-1zM419,598h1v1h-1zM959,598h1v1h-1zM355,578h1v1h-1zM875,578h1v1h-1zM803,579h1v1h-1zM169,651h1v1h-1zM697,651h1v1h-1zM509,637h1v1h-1zM731,637h1v1h-1zM1025,637h1v1h-1zM239,631h1v1h-1zM497,631h1v1h-1zM1005,631h1v1h-1zM785,585h1v1h-1zM485,624h1v1h-1zM745,624h1v1h-1zM294,587h1v1h-1zM783,587h1v1h-1zM945,587h1v1h-1zM283,596h1v1h-1zM772,596h1v1h-1zM957,596h1v1h-1zM415,597h1v1h-1zM771,597h1v1h-1zM958,597h1v1h-1zM313,576h1v1h-1zM923,576h1v1h-1zM258,617h1v1h-1zM981,617h1v1h-1zM293,588h1v1h-1zM385,588h1v1h-1zM946,588h1v1h-1zM733,635h1v1h-1zM947,589h1v1h-1zM240,630h1v1h-1zM739,630h1v1h-1zM1073,630h1v1h-1zM1115,630h1v1h-1zM199,644h1v1h-1zM721,644h1v1h-1zM547,652h1v1h-1zM750,619h1v1h-1zM983,619h1v1h-1zM277,601h1v1h-1zM766,601h1v1h-1zM1055,633h1v1h-1zM1127,633h1v1h-1zM253,621h1v1h-1zM479,621h1v1h-1zM911,573h1v1h-1zM467,615h1v1h-1zM246,626h1v1h-1zM743,626h1v1h-1zM305,580h1v1h-1zM933,580h1v1h-1zM927,577h1v1h-1zM965,604h1v1h-1zM263,613h1v1h-1zM755,613h1v1h-1zM275,603h1v1h-1zM964,603h1v1h-1zM754,614h1v1h-1zM977,614h1v1h-1zM247,625h1v1h-1zM744,625h1v1h-1zM993,625h1v1h-1zM773,595h1v1h-1zM953,593h1v1h-1zM905,572h1v1h-1zM535,649h1v1h-1zM719,646h1v1h-1zM767,600h1v1h-1zM221,639h1v1h-1zM971,609h1v1h-1zM720,645h1v1h-1zM725,642h1v1h-1zM295,586h1v1h-1zM784,586h1v1h-1zM19,657h1v1h-1zM264,612h1v1h-1zM461,612h1v1h-1zM756,612h1v1h-1zM257,618h1v1h-1zM473,618h1v1h-1zM751,618h1v1h-1zM982,618h1v1h-1zM265,611h1v1h-1zM457,611h1v1h-1zM259,616h1v1h-1zM187,647h1v1h-1zM529,647h1v1h-1zM715,647h1v1h-1zM749,620h1v1h-1zM211,641h1v1h-1zM726,641h1v1h-1zM1155,641h1v1h-1zM270,607h1v1h-1zM391,590h1v1h-1zM779,590h1v1h-1zM989,623h1v1h-1zM245,627h1v1h-1z" fill="#ff0000" shape-rendering="crispEdges"/>
</g>
<line x1="6" y1="707.5" x2="1420" y2="707.5" stroke="#b4b4b4" stroke-width="1" stroke-dasharray="3,3" shape-rendering="crispEdges"/>
<line x1="6" y1="758.5" x2="1420" y2="758.5" stroke="#b4b4b4" stroke-width="1" stroke-dasharray="3,3" shape-rendering="crispEdges"/>
<clipPath id="crsi"><rect x="5" y="668" width="1415" height="129"/></clipPath>
<g clip-path="url(#crsi)">
<path d="M31,737h4v1h-4zM39,737h2v1h-2zM47,737h2v1h-2zM453,737h9v1h-9zM492,737h10v1h-10zM544,737h2v1h-2zM587,737h6v1h-6zM599,737h4v1h-4zM607,737h2v1h-2zM623,737h4v1h-4zM630,737h2v1h-2zM659,737h2v1h-2zM671,737h2v1h-2zM945,737h2v1h-2zM966,737h2v1h-2zM1136,737h2v1h-2zM339,707h6v1h-6zM351,707h4v1h-4zM736,707h2v1h-2zM838,707h2v1h-2zM880,707h2v1h-2zM887,707h2v1h-2zM471,748h2v1h-2zM481,743h2v1h-2zM513,743h5v1h-5zM956,743h2v1h-2zM1117,743h4v1h-4zM1126,743h2v1h-2zM17,732h3v1h-3zM126,732h2v1h-2zM564,732h3v1h-3zM649,732h5v1h-5zM938,732h2v1h-2zM977,732h6v1h-6zM246,693h2v1h-2zM271,693h4v1h-4zM278,693h2v1h-2zM207,712h4v1h-4zM324,712h3v1h-3zM361,712h2v1h-2zM385,712h5v1h-5zM831,712h2v1h-2zM869,712h2v1h-2zM233,700h5v1h-5zM292,700h5v1h-5zM302,700h2v1h-2zM713,700h5v1h-5zM417,718h8v1h-8zM801,718h2v1h-2zM817,718h5v1h-5zM29,738h2v1h-2zM41,738h3v1h-3zM490,738h2v1h-2zM502,738h2v1h-2zM546,738h2v1h-2zM583,738h4v1h-4zM603,738h4v1h-4zM627,738h3v1h-3zM661,738h4v1h-4zM1134,738h2v1h-2zM1145,738h2v1h-2zM311,705h2v1h-2zM740,705h5v1h-5zM753,705h8v1h-8zM842,705h2v1h-2zM849,705h8v1h-8zM884,705h2v1h-2zM133,728h2v1h-2zM176,728h2v1h-2zM689,728h3v1h-3zM920,728h2v1h-2zM929,728h3v1h-3zM991,728h2v1h-2zM1003,728h6v1h-6zM1014,728h2v1h-2zM75,730h2v1h-2zM129,730h2v1h-2zM180,730h2v1h-2zM559,730h2v1h-2zM571,730h3v1h-3zM934,730h2v1h-2zM985,730h3v1h-3zM137,726h3v1h-3zM157,726h4v1h-4zM169,726h5v1h-5zM685,726h2v1h-2zM924,726h3v1h-3zM996,726h3v1h-3zM1017,726h2v1h-2zM215,710h2v1h-2zM319,710h2v1h-2zM329,710h3v1h-3zM392,710h2v1h-2zM873,710h3v1h-3zM891,710h2v1h-2zM476,746h2v1h-2zM522,746h2v1h-2zM5,734h10v1h-10zM51,734h2v1h-2zM55,734h4v1h-4zM65,734h5v1h-5zM121,734h3v1h-3zM636,734h5v1h-5zM655,734h2v1h-2zM675,734h2v1h-2zM971,734h2v1h-2zM44,739h2v1h-2zM95,739h2v1h-2zM488,739h2v1h-2zM548,739h2v1h-2zM581,739h2v1h-2zM665,739h5v1h-5zM963,739h2v1h-2zM1147,739h2v1h-2zM211,711h4v1h-4zM321,711h3v1h-3zM327,711h2v1h-2zM390,711h2v1h-2zM871,711h2v1h-2zM142,724h2v1h-2zM153,724h2v1h-2zM191,724h2v1h-2zM773,724h3v1h-3zM1021,724h9v1h-9zM1065,724h2v1h-2zM217,709h3v1h-3zM317,709h2v1h-2zM332,709h3v1h-3zM394,709h2v1h-2zM835,709h2v1h-2zM876,709h2v1h-2zM345,706h6v1h-6zM738,706h2v1h-2zM745,706h8v1h-8zM840,706h2v1h-2zM882,706h2v1h-2zM205,713h2v1h-2zM377,713h8v1h-8zM289,699h3v1h-3zM297,699h5v1h-5zM35,736h4v1h-4zM99,736h2v1h-2zM117,736h2v1h-2zM542,736h2v1h-2zM593,736h6v1h-6zM609,736h3v1h-3zM617,736h6v1h-6zM632,736h2v1h-2zM1138,736h2v1h-2zM1142,736h2v1h-2zM308,703h2v1h-2zM131,729h2v1h-2zM178,729h2v1h-2zM557,729h2v1h-2zM681,729h2v1h-2zM692,729h2v1h-2zM918,729h2v1h-2zM932,729h2v1h-2zM988,729h3v1h-3zM1009,729h5v1h-5zM25,735h2v1h-2zM59,735h6v1h-6zM119,735h2v1h-2zM533,735h9v1h-9zM612,735h5v1h-5zM634,735h2v1h-2zM969,735h2v1h-2zM1140,735h2v1h-2zM413,719h4v1h-4zM901,719h4v1h-4zM1037,719h4v1h-4zM1049,719h8v1h-8zM1093,719h4v1h-4zM15,733h2v1h-2zM53,733h2v1h-2zM70,733h2v1h-2zM124,733h2v1h-2zM641,733h8v1h-8zM940,733h2v1h-2zM973,733h4v1h-4zM433,716h8v1h-8zM805,716h4v1h-4zM824,716h2v1h-2zM781,720h12v1h-12zM798,720h2v1h-2zM905,720h5v1h-5zM1035,720h2v1h-2zM1041,720h8v1h-8zM1057,720h5v1h-5zM1097,720h5v1h-5zM148,721h2v1h-2zM779,721h2v1h-2zM793,721h5v1h-5zM1033,721h2v1h-2zM483,742h2v1h-2zM509,742h4v1h-4zM953,742h3v1h-3zM958,742h2v1h-2zM1155,742h3v1h-3zM135,727h2v1h-2zM174,727h2v1h-2zM195,727h2v1h-2zM687,727h2v1h-2zM922,727h2v1h-2zM927,727h2v1h-2zM993,727h3v1h-3zM999,727h4v1h-4zM144,723h2v1h-2zM1030,723h2v1h-2zM251,696h2v1h-2zM263,696h2v1h-2zM283,696h2v1h-2zM369,714h8v1h-8zM828,714h2v1h-2zM220,708h2v1h-2zM315,708h2v1h-2zM335,708h4v1h-4zM355,708h3v1h-3zM396,708h10v1h-10zM733,708h3v1h-3zM878,708h2v1h-2zM425,717h8v1h-8zM441,717h5v1h-5zM803,717h2v1h-2zM809,717h8v1h-8zM822,717h2v1h-2zM365,715h4v1h-4zM826,715h2v1h-2zM146,722h2v1h-2zM150,722h2v1h-2zM777,722h2v1h-2zM1089,722h2v1h-2zM469,749h2v1h-2zM229,701h4v1h-4zM304,701h2v1h-2zM709,701h4v1h-4zM225,704h2v1h-2zM761,704h5v1h-5zM844,704h5v1h-5zM857,704h5v1h-5zM140,725h2v1h-2zM155,725h2v1h-2zM161,725h8v1h-8zM1019,725h2v1h-2zM20,731h2v1h-2zM73,731h2v1h-2zM561,731h3v1h-3zM567,731h4v1h-4zM936,731h2v1h-2zM983,731h2v1h-2zM1073,731h2v1h-2zM268,694h3v1h-3zM306,702h2v1h-2zM249,695h2v1h-2zM265,695h3v1h-3zM281,695h2v1h-2zM518,744h2v1h-2zM1121,744h5v1h-5zM85,740h4v1h-4zM486,740h2v1h-2zM505,740h2v1h-2zM949,740h2v1h-2zM961,740h2v1h-2zM1113,740h2v1h-2zM1131,740h2v1h-2zM1149,740h2v1h-2zM89,741h5v1h-5zM507,741h2v1h-2zM951,741h2v1h-2zM1129,741h2v1h-2zM1151,741h4v1h-4zM253,697h10v1h-10zM285,697h2v1h-2zM478,745h2v1h-2zM520,745h2v1h-2zM287,698h2v1h-2zM473,747h3v1h-3zM524,747h2v1h-2zM275,692h3v1h-3zM28,737h1v1h-1zM83,737h1v1h-1zM98,737h1v1h-1zM102,736h1v2h-1zM116,737h1v2h-1zM532,736h1v2h-1zM551,736h1v2h-1zM579,737h1v1h-1zM1110,737h1v1h-1zM1144,737h1v1h-1zM222,707h1v1h-1zM314,707h1v1h-1zM706,707h1v2h-1zM732,705h1v3h-1zM766,706h1v2h-1zM864,707h1v1h-1zM108,747h1v2h-1zM110,747h1v2h-1zM468,747h1v2h-1zM106,743h1v2h-1zM113,742h1v2h-1zM465,743h1v1h-1zM528,742h1v2h-1zM22,732h1v1h-1zM72,732h1v1h-1zM79,732h1v1h-1zM451,731h1v3h-1zM555,731h1v2h-1zM575,732h1v1h-1zM678,732h1v1h-1zM1075,732h1v1h-1zM1079,732h1v1h-1zM1107,731h1v2h-1zM244,693h1v1h-1zM721,692h1v2h-1zM728,692h1v3h-1zM408,712h1v1h-1zM704,712h1v2h-1zM768,711h1v3h-1zM894,712h1v1h-1zM730,699h1v3h-1zM202,718h1v2h-1zM412,717h1v2h-1zM445,718h1v1h-1zM701,718h1v2h-1zM770,716h1v3h-1zM900,718h1v1h-1zM46,738h1v1h-1zM84,738h1v2h-1zM97,738h1v1h-1zM103,738h1v2h-1zM462,738h1v2h-1zM531,738h1v1h-1zM550,738h1v1h-1zM580,738h1v1h-1zM670,738h1v1h-1zM947,738h1v1h-1zM965,738h1v1h-1zM1111,738h1v1h-1zM224,705h1v1h-1zM707,705h1v2h-1zM765,705h1v1h-1zM862,705h1v1h-1zM183,728h1v1h-1zM197,728h1v1h-1zM449,726h1v3h-1zM683,728h1v1h-1zM694,728h1v1h-1zM915,727h1v2h-1zM1070,728h1v1h-1zM1083,728h1v1h-1zM1105,727h1v2h-1zM78,730h1v2h-1zM450,729h1v2h-1zM556,730h1v1h-1zM680,730h1v1h-1zM917,730h1v1h-1zM1072,730h1v1h-1zM1081,730h1v1h-1zM1106,729h1v2h-1zM185,726h1v1h-1zM194,726h1v1h-1zM198,726h1v2h-1zM695,726h1v2h-1zM914,726h1v1h-1zM1068,726h1v1h-1zM1085,726h1v1h-1zM1104,725h1v2h-1zM359,710h1v1h-1zM406,709h1v2h-1zM705,709h1v3h-1zM767,708h1v3h-1zM834,710h1v1h-1zM867,710h1v1h-1zM107,745h1v2h-1zM111,745h1v2h-1zM467,746h1v1h-1zM526,745h1v2h-1zM24,734h1v1h-1zM81,734h1v2h-1zM452,734h1v2h-1zM553,734h1v1h-1zM577,734h1v2h-1zM942,734h1v1h-1zM1077,734h1v1h-1zM1108,733h1v2h-1zM115,739h1v2h-1zM504,739h1v1h-1zM530,739h1v2h-1zM948,739h1v1h-1zM1112,739h1v1h-1zM1133,739h1v1h-1zM360,711h1v1h-1zM407,711h1v1h-1zM833,711h1v1h-1zM868,711h1v1h-1zM893,711h1v1h-1zM187,724h1v1h-1zM199,724h1v2h-1zM448,724h1v2h-1zM697,724h1v1h-1zM912,724h1v1h-1zM1087,724h1v1h-1zM1103,723h1v2h-1zM724,686h1v2h-1zM726,686h1v3h-1zM358,709h1v1h-1zM733,709h1v1h-1zM866,709h1v1h-1zM890,709h1v1h-1zM223,706h1v1h-1zM313,706h1v1h-1zM863,706h1v1h-1zM886,706h1v1h-1zM363,713h1v1h-1zM409,713h1v2h-1zM830,713h1v1h-1zM895,713h1v1h-1zM238,699h1v1h-1zM718,698h1v2h-1zM27,736h1v1h-1zM49,736h1v1h-1zM82,736h1v1h-1zM453,736h1v1h-1zM578,736h1v1h-1zM658,736h1v1h-1zM673,736h1v1h-1zM944,736h1v1h-1zM968,736h1v1h-1zM1109,735h1v2h-1zM227,703h1v1h-1zM708,703h1v2h-1zM731,702h1v3h-1zM77,729h1v1h-1zM182,729h1v1h-1zM916,729h1v1h-1zM1071,729h1v1h-1zM1082,729h1v1h-1zM50,735h1v1h-1zM101,735h1v1h-1zM552,735h1v1h-1zM657,735h1v1h-1zM674,735h1v1h-1zM943,735h1v1h-1zM446,719h1v2h-1zM771,719h1v3h-1zM800,719h1v1h-1zM23,733h1v1h-1zM80,733h1v1h-1zM554,733h1v1h-1zM576,733h1v1h-1zM654,733h1v1h-1zM677,733h1v1h-1zM1076,733h1v1h-1zM1078,733h1v1h-1zM203,716h1v2h-1zM411,716h1v1h-1zM702,716h1v2h-1zM898,716h1v1h-1zM201,720h1v2h-1zM700,720h1v1h-1zM1092,720h1v1h-1zM447,721h1v3h-1zM699,721h1v2h-1zM910,721h1v1h-1zM1062,721h1v1h-1zM1091,721h1v1h-1zM1102,721h1v2h-1zM105,742h1v1h-1zM464,741h1v2h-1zM1116,742h1v1h-1zM1128,742h1v1h-1zM184,727h1v1h-1zM684,727h1v1h-1zM1016,727h1v1h-1zM1069,727h1v1h-1zM1084,727h1v1h-1zM152,723h1v1h-1zM188,723h1v1h-1zM190,723h1v1h-1zM200,722h1v2h-1zM698,723h1v1h-1zM772,722h1v2h-1zM776,723h1v1h-1zM911,722h1v2h-1zM1064,723h1v1h-1zM1088,723h1v1h-1zM241,696h1v1h-1zM719,696h1v2h-1zM729,695h1v4h-1zM204,714h1v2h-1zM364,714h1v1h-1zM703,714h1v2h-1zM769,714h1v2h-1zM896,714h1v1h-1zM837,708h1v1h-1zM865,708h1v1h-1zM889,708h1v1h-1zM899,717h1v1h-1zM410,715h1v1h-1zM897,715h1v1h-1zM189,722h1v1h-1zM1032,722h1v1h-1zM1063,722h1v1h-1zM109,749h1v1h-1zM722,690h1v2h-1zM727,689h1v3h-1zM310,704h1v1h-1zM186,725h1v1h-1zM193,725h1v1h-1zM696,725h1v1h-1zM773,725h1v1h-1zM913,725h1v1h-1zM1067,725h1v1h-1zM1086,725h1v1h-1zM128,731h1v1h-1zM574,731h1v1h-1zM679,731h1v1h-1zM1080,731h1v1h-1zM243,694h1v1h-1zM248,694h1v1h-1zM280,694h1v1h-1zM720,694h1v2h-1zM228,702h1v1h-1zM709,702h1v1h-1zM242,695h1v1h-1zM112,744h1v1h-1zM466,744h1v2h-1zM480,744h1v1h-1zM527,744h1v1h-1zM94,740h1v1h-1zM104,740h1v2h-1zM463,740h1v1h-1zM114,741h1v1h-1zM485,741h1v1h-1zM529,741h1v1h-1zM960,741h1v1h-1zM1115,741h1v1h-1zM240,697h1v1h-1zM723,688h1v2h-1zM239,698h1v1h-1zM245,692h1v1h-1zM725,684h1v2h-1z" fill="#1e90ff" shape-rendering="crispEdges"/>
</g>
<polygon points="8,32 15,32 11.5,28" fill="#000"/>
<text x="20.2" y="33" font-size="10.3" fill="#000" textLength="68.8" lengthAdjust="spacingAndGlyphs" stroke="#000" stroke-width="0.2">USDCNH-,Daily</text>
<text x="94.9" y="33" font-size="10.0" fill="#000" textLength="32.7" lengthAdjust="spacingAndGlyphs" stroke="#000" stroke-width="0.2">7.07935</text>
<text x="131.0" y="33" font-size="10.0" fill="#000" textLength="32.7" lengthAdjust="spacingAndGlyphs" stroke="#000" stroke-width="0.2">7.08057</text>
<text x="167.10000000000002" y="33" font-size="10.0" fill="#000" textLength="32.7" lengthAdjust="spacingAndGlyphs" stroke="#000" stroke-width="0.2">7.06847</text>
<text x="203.20000000000002" y="33" font-size="10.0" fill="#000" textLength="32.7" lengthAdjust="spacingAndGlyphs" stroke="#000" stroke-width="0.2">7.07210</text>
<text x="8.8" y="575" font-size="9.8" fill="#000" textLength="66.0" lengthAdjust="spacingAndGlyphs" stroke="#000" stroke-width="0.25">MACD(12,26,9)</text>
<text x="77.2" y="575" font-size="9.8" fill="#000" textLength="41.3" lengthAdjust="spacingAndGlyphs" stroke="#000" stroke-width="0.25">-0.005267</text>
<text x="121.5" y="575" font-size="9.8" fill="#000" textLength="38.2" lengthAdjust="spacingAndGlyphs" stroke="#000" stroke-width="0.25">0.004537</text>
<text x="8.7" y="680" font-size="9.8" fill="#000" textLength="32.8" lengthAdjust="spacingAndGlyphs" stroke="#000" stroke-width="0.25">RSI(14)</text>
<text x="43.4" y="680" font-size="9.8" fill="#000" textLength="33.6" lengthAdjust="spacingAndGlyphs" stroke="#000" stroke-width="0.25">42.9800</text>
<g shape-rendering="crispEdges">
<rect x="1421" y="28" width="2" height="1" fill="#000"/>
<rect x="1421" y="61" width="2" height="1" fill="#000"/>
<rect x="1421" y="95" width="2" height="1" fill="#000"/>
<rect x="1421" y="128" width="2" height="1" fill="#000"/>
<rect x="1421" y="161" width="2" height="1" fill="#000"/>
<rect x="1421" y="194" width="2" height="1" fill="#000"/>
<rect x="1421" y="227" width="2" height="1" fill="#000"/>
<rect x="1421" y="260" width="2" height="1" fill="#000"/>
<rect x="1421" y="293" width="2" height="1" fill="#000"/>
<rect x="1421" y="326" width="2" height="1" fill="#000"/>
<rect x="1421" y="359" width="2" height="1" fill="#000"/>
<rect x="1421" y="392" width="2" height="1" fill="#000"/>
<rect x="1421" y="425" width="2" height="1" fill="#000"/>
<rect x="1421" y="458" width="2" height="1" fill="#000"/>
<rect x="1421" y="491" width="2" height="1" fill="#000"/>
<rect x="1421" y="524" width="2" height="1" fill="#000"/>
<rect x="1421" y="557" width="2" height="1" fill="#000"/>
</g>
<text x="1425.6" y="32" font-size="9.6" fill="#000" textLength="33.2" lengthAdjust="spacingAndGlyphs" stroke="#000" stroke-width="0.3">7.21400</text>
<text x="1425.6" y="65" font-size="9.6" fill="#000" textLength="33.2" lengthAdjust="spacingAndGlyphs" stroke="#000" stroke-width="0.3">7.18000</text>
<text x="1425.6" y="99" font-size="9.6" fill="#000" textLength="33.2" lengthAdjust="spacingAndGlyphs" stroke="#000" stroke-width="0.3">7.14500</text>
<text x="1425.6" y="132" font-size="9.6" fill="#000" textLength="33.2" lengthAdjust="spacingAndGlyphs" stroke="#000" stroke-width="0.3">7.11100</text>
<text x="1425.6" y="165" font-size="9.6" fill="#000" textLength="33.2" lengthAdjust="spacingAndGlyphs" stroke="#000" stroke-width="0.3">7.07700</text>
<text x="1425.6" y="198" font-size="9.6" fill="#000" textLength="33.2" lengthAdjust="spacingAndGlyphs" stroke="#000" stroke-width="0.3">7.04200</text>
<text x="1425.6" y="231" font-size="9.6" fill="#000" textLength="33.2" lengthAdjust="spacingAndGlyphs" stroke="#000" stroke-width="0.3">7.00800</text>
<text x="1425.6" y="264" font-size="9.6" fill="#000" textLength="33.2" lengthAdjust="spacingAndGlyphs" stroke="#000" stroke-width="0.3">6.97400</text>
<text x="1425.6" y="297" font-size="9.6" fill="#000" textLength="33.2" lengthAdjust="spacingAndGlyphs" stroke="#000" stroke-width="0.3">6.93900</text>
<text x="1425.6" y="330" font-size="9.6" fill="#000" textLength="33.2" lengthAdjust="spacingAndGlyphs" stroke="#000" stroke-width="0.3">6.90500</text>
<text x="1425.6" y="363" font-size="9.6" fill="#000" textLength="33.2" lengthAdjust="spacingAndGlyphs" stroke="#000" stroke-width="0.3">6.87100</text>
<text x="1425.6" y="396" font-size="9.6" fill="#000" textLength="33.2" lengthAdjust="spacingAndGlyphs" stroke="#000" stroke-width="0.3">6.83600</text>
<text x="1425.6" y="429" font-size="9.6" fill="#000" textLength="33.2" lengthAdjust="spacingAndGlyphs" stroke="#000" stroke-width="0.3">6.80200</text>
<text x="1425.6" y="462" font-size="9.6" fill="#000" textLength="33.2" lengthAdjust="spacingAndGlyphs" stroke="#000" stroke-width="0.3">6.76800</text>
<text x="1425.6" y="495" font-size="9.6" fill="#000" textLength="33.2" lengthAdjust="spacingAndGlyphs" stroke="#000" stroke-width="0.3">6.73300</text>
<text x="1425.6" y="528" font-size="9.6" fill="#000" textLength="33.2" lengthAdjust="spacingAndGlyphs" stroke="#000" stroke-width="0.3">6.69900</text>
<text x="1425.6" y="561" font-size="9.6" fill="#000" textLength="33.2" lengthAdjust="spacingAndGlyphs" stroke="#000" stroke-width="0.3">6.66500</text>
<rect x="1421" y="37" width="40" height="11" fill="#ff0000"/>
<text x="1425.6" y="46" font-size="10" fill="#fff" textLength="33.2" lengthAdjust="spacingAndGlyphs">7.20009</text>
<rect x="1421" y="133" width="40" height="11" fill="#ff0000"/>
<text x="1425.6" y="142" font-size="10" fill="#fff" textLength="33.2" lengthAdjust="spacingAndGlyphs">7.10029</text>
<rect x="1421" y="229" width="40" height="11" fill="#00ff00"/>
<text x="1425.6" y="238" font-size="10" fill="#fff" textLength="33.2" lengthAdjust="spacingAndGlyphs">7.00048</text>
<rect x="1421" y="325" width="40" height="11" fill="#0000dd"/>
<text x="1425.6" y="334" font-size="10" fill="#fff" textLength="33.2" lengthAdjust="spacingAndGlyphs">6.90100</text>
<rect x="1421" y="402" width="40" height="11" fill="#0000dd"/>
<text x="1425.6" y="411" font-size="10" fill="#fff" textLength="33.2" lengthAdjust="spacingAndGlyphs">6.82084</text>
<rect x="1421" y="160" width="40" height="11" fill="#000"/>
<text x="1425.6" y="169" font-size="10" fill="#fff" textLength="33.2" lengthAdjust="spacingAndGlyphs">7.07210</text>
<text x="1424.2" y="573" font-size="9.6" fill="#000" textLength="28.0" lengthAdjust="spacingAndGlyphs" stroke="#000" stroke-width="0.3">0.0593</text>
<rect x="1421" y="648" width="2" height="1" fill="#000"/>
<text x="1424.2" y="651.5" font-size="9.6" fill="#000" textLength="18.0" lengthAdjust="spacingAndGlyphs" stroke="#000" stroke-width="0.3">0.00</text>
<text x="1424.2" y="661.6" font-size="9.6" fill="#000" textLength="39.5" lengthAdjust="spacingAndGlyphs" stroke="#000" stroke-width="0.3">-0.01128</text>
<text x="1424.2" y="678" font-size="9.6" fill="#000" textLength="14.6" lengthAdjust="spacingAndGlyphs" stroke="#000" stroke-width="0.3">100</text>
<text x="1423.4" y="711" font-size="9.6" fill="#000" textLength="10.0" lengthAdjust="spacingAndGlyphs" stroke="#000" stroke-width="0.3">70</text>
<text x="1423.4" y="762" font-size="9.6" fill="#000" textLength="10.0" lengthAdjust="spacingAndGlyphs" stroke="#000" stroke-width="0.3">30</text>
<text x="1423.8" y="794" font-size="9.6" fill="#000" textLength="5.0" lengthAdjust="spacingAndGlyphs" stroke="#000" stroke-width="0.3">0</text>
<g shape-rendering="crispEdges">
<rect x="5" y="798" width="1" height="3" fill="#000"/>
<rect x="69" y="798" width="1" height="3" fill="#000"/>
<rect x="133" y="798" width="1" height="3" fill="#000"/>
<rect x="197" y="798" width="1" height="3" fill="#000"/>
<rect x="261" y="798" width="1" height="3" fill="#000"/>
<rect x="325" y="798" width="1" height="3" fill="#000"/>
<rect x="389" y="798" width="1" height="3" fill="#000"/>
<rect x="453" y="798" width="1" height="3" fill="#000"/>
<rect x="517" y="798" width="1" height="3" fill="#000"/>
<rect x="581" y="798" width="1" height="3" fill="#000"/>
<rect x="645" y="798" width="1" height="3" fill="#000"/>
<rect x="709" y="798" width="1" height="3" fill="#000"/>
<rect x="773" y="798" width="1" height="3" fill="#000"/>
<rect x="837" y="798" width="1" height="3" fill="#000"/>
<rect x="901" y="798" width="1" height="3" fill="#000"/>
<rect x="965" y="798" width="1" height="3" fill="#000"/>
<rect x="1029" y="798" width="1" height="3" fill="#000"/>
<rect x="1093" y="798" width="1" height="3" fill="#000"/>
<rect x="1157" y="798" width="1" height="3" fill="#000"/>
</g>
<text x="3.6" y="810" font-size="9.6" fill="#000" textLength="52.3" lengthAdjust="spacingAndGlyphs" stroke="#000" stroke-width="0.3">29 Mar 2019</text>
<text x="67.9" y="810" font-size="9.6" fill="#000" textLength="51.3" lengthAdjust="spacingAndGlyphs" stroke="#000" stroke-width="0.3">10 Apr 2019</text>
<text x="131.9" y="810" font-size="9.6" fill="#000" textLength="50.9" lengthAdjust="spacingAndGlyphs" stroke="#000" stroke-width="0.3">23 Apr 2019</text>
<text x="195.6" y="810" font-size="9.6" fill="#000" textLength="50.7" lengthAdjust="spacingAndGlyphs" stroke="#000" stroke-width="0.3">3 May 2019</text>
<text x="259.9" y="810" font-size="9.6" fill="#000" textLength="55.5" lengthAdjust="spacingAndGlyphs" stroke="#000" stroke-width="0.3">15 May 2019</text>
<text x="324.0" y="810" font-size="9.6" fill="#000" textLength="55.2" lengthAdjust="spacingAndGlyphs" stroke="#000" stroke-width="0.3">27 May 2019</text>
<text x="387.8" y="810" font-size="9.6" fill="#000" textLength="45.6" lengthAdjust="spacingAndGlyphs" stroke="#000" stroke-width="0.3">6 Jun 2019</text>
<text x="452.1" y="810" font-size="9.6" fill="#000" textLength="49.7" lengthAdjust="spacingAndGlyphs" stroke="#000" stroke-width="0.3">18 Jun 2019</text>
<text x="515.9" y="810" font-size="9.6" fill="#000" textLength="50.8" lengthAdjust="spacingAndGlyphs" stroke="#000" stroke-width="0.3">28 Jun 2019</text>
<text x="580.2" y="810" font-size="9.6" fill="#000" textLength="47.6" lengthAdjust="spacingAndGlyphs" stroke="#000" stroke-width="0.3">10 Jul 2019</text>
<text x="643.7" y="810" font-size="9.6" fill="#000" textLength="47.6" lengthAdjust="spacingAndGlyphs" stroke="#000" stroke-width="0.3">22 Jul 2019</text>
<text x="708.1" y="810" font-size="9.6" fill="#000" textLength="48.3" lengthAdjust="spacingAndGlyphs" stroke="#000" stroke-width="0.3">1 Aug 2019</text>
<text x="771.9" y="810" font-size="9.6" fill="#000" textLength="53.5" lengthAdjust="spacingAndGlyphs" stroke="#000" stroke-width="0.3">13 Aug 2019</text>
<text x="836.2" y="810" font-size="9.6" fill="#000" textLength="53.0" lengthAdjust="spacingAndGlyphs" stroke="#000" stroke-width="0.3">23 Aug 2019</text>
<text x="900.0" y="810" font-size="9.6" fill="#000" textLength="47.5" lengthAdjust="spacingAndGlyphs" stroke="#000" stroke-width="0.3">4 Sep 2019</text>
<text x="964.1" y="810" font-size="9.6" fill="#000" textLength="52.4" lengthAdjust="spacingAndGlyphs" stroke="#000" stroke-width="0.3">16 Sep 2019</text>
<text x="1027.6" y="810" font-size="9.6" fill="#000" textLength="52.9" lengthAdjust="spacingAndGlyphs" stroke="#000" stroke-width="0.3">26 Sep 2019</text>
<text x="1091.6" y="810" font-size="9.6" fill="#000" textLength="46.9" lengthAdjust="spacingAndGlyphs" stroke="#000" stroke-width="0.3">8 Oct 2019</text>
<text x="1156.3" y="810" font-size="9.6" fill="#000" textLength="50.7" lengthAdjust="spacingAndGlyphs" stroke="#000" stroke-width="0.3">18 Oct 2019</text>
<text x="16.7" y="835" font-size="12" fill="#6d6d6d" textLength="85.8" lengthAdjust="spacingAndGlyphs">EURUSD-,Daily</text>
<text x="123.4" y="835" font-size="12" fill="#6d6d6d" textLength="87.9" lengthAdjust="spacingAndGlyphs">AUDUSD-,Daily</text>
<text x="233.7" y="835" font-size="12" fill="#6d6d6d" textLength="84.7" lengthAdjust="spacingAndGlyphs">USDCHF-,Daily</text>
<text x="340.9" y="835" font-size="12" fill="#6d6d6d" textLength="86.4" lengthAdjust="spacingAndGlyphs">USDCAD-,Daily</text>
<text x="560.6" y="835" font-size="12" fill="#6d6d6d" textLength="97.6" lengthAdjust="spacingAndGlyphs">EURCHF-,Weekly</text>
<text x="681.4" y="835" font-size="12" fill="#6d6d6d" textLength="101.2" lengthAdjust="spacingAndGlyphs">XAUUSD-,Weekly</text>
<text x="804.6" y="835" font-size="12" fill="#6d6d6d" textLength="73.0" lengthAdjust="spacingAndGlyphs">GBPUSD-,H1</text>
<text x="900.5" y="835" font-size="12" fill="#6d6d6d" textLength="57.2" lengthAdjust="spacingAndGlyphs">UKOil-,H1</text>
<text x="979.9" y="835" font-size="12" fill="#6d6d6d" textLength="83.3" lengthAdjust="spacingAndGlyphs">USDX-,Weekly</text>
<text x="1084.0" y="835" font-size="12" fill="#6d6d6d" textLength="71.0" lengthAdjust="spacingAndGlyphs">EURCHF-,H1</text>
<text x="1177.4" y="835" font-size="12" fill="#6d6d6d" textLength="56.4" lengthAdjust="spacingAndGlyphs">USOil-,H1</text>
<rect x="114" y="824" width="1" height="12" fill="#6d6d6d"/>
<rect x="222" y="824" width="1" height="12" fill="#6d6d6d"/>
<rect x="330" y="824" width="1" height="12" fill="#6d6d6d"/>
<rect x="670" y="824" width="1" height="12" fill="#6d6d6d"/>
<rect x="794" y="824" width="1" height="12" fill="#6d6d6d"/>
<rect x="890" y="824" width="1" height="12" fill="#6d6d6d"/>
<rect x="970" y="824" width="1" height="12" fill="#6d6d6d"/>
<rect x="1074" y="824" width="1" height="12" fill="#6d6d6d"/>
<rect x="1166" y="824" width="1" height="12" fill="#6d6d6d"/>
<rect x="1246" y="824" width="1" height="12" fill="#6d6d6d"/>
<rect x="438" y="820" width="112" height="19" fill="#000"/>
<rect x="439" y="821" width="110" height="17" fill="#fff"/>
<text x="449.4" y="835" font-size="12" fill="#000" textLength="88.6" lengthAdjust="spacingAndGlyphs">USDCNH-,Daily</text>
<polygon points="1440,826 1440,832 1437,829" fill="#a0a0a0"/>
<polygon points="1455,826 1455,832 1458,829" fill="#a0a0a0"/>
<defs>
<linearGradient id="gUp" x1="0" y1="0" x2="0" y2="1"><stop offset="0" stop-color="#f45656"/><stop offset="1" stop-color="#dd3030"/></linearGradient>
<linearGradient id="gLo" x1="0" y1="0" x2="0" y2="1"><stop offset="0" stop-color="#dc2c2c"/><stop offset="1" stop-color="#b00000"/></linearGradient>
<linearGradient id="gBtn" x1="0" y1="0" x2="0" y2="1"><stop offset="0" stop-color="#f4f4f4"/><stop offset="1" stop-color="#d2d2d2"/></linearGradient>
</defs>
<g shape-rendering="crispEdges">
<rect x="6" y="38" width="223" height="9" fill="#ffffff"/>
<rect x="6" y="38" width="2" height="67" fill="#ffffff"/>
<rect x="8" y="41" width="52" height="24" fill="#b80000"/>
<rect x="9" y="42" width="50" height="23" fill="url(#gUp)"/>
<rect x="8" y="65" width="109" height="40" fill="#b00000"/>
<rect x="9" y="65" width="107" height="39" fill="url(#gLo)"/>
<rect x="12" y="64" width="44" height="1" fill="#7a0000"/>
<rect x="12" y="65" width="44" height="1" fill="#e86a6a"/>
<rect x="175" y="41" width="52" height="24" fill="#b80000"/>
<rect x="176" y="42" width="50" height="23" fill="url(#gUp)"/>
<rect x="119" y="65" width="108" height="40" fill="#b00000"/>
<rect x="120" y="65" width="106" height="39" fill="url(#gLo)"/>
<rect x="179" y="64" width="44" height="1" fill="#7a0000"/>
<rect x="179" y="65" width="44" height="1" fill="#e86a6a"/>
<rect x="62" y="41" width="112" height="22" fill="#a8acb4"/>
<rect x="63" y="42" width="110" height="20" fill="#ffffff"/>
<rect x="63" y="42" width="20" height="20" fill="url(#gBtn)"/>
<rect x="83" y="42" width="1" height="20" fill="#a8acb4"/>
<rect x="152" y="42" width="20" height="20" fill="url(#gBtn)"/>
<rect x="151" y="42" width="1" height="20" fill="#a8acb4"/>
</g>
<polygon points="69.5,50 75.5,50 72.5,53.5" fill="#5a6cd0"/>
<polygon points="158.5,53.5 164.5,53.5 161.5,50" fill="#5a6cd0"/>
<text x="147.5" y="56" font-size="12.5" fill="#000" text-anchor="end">1.00</text>
<text x="20.2" y="57" font-size="12.5" fill="#fff" textLength="25.6" lengthAdjust="spacingAndGlyphs">SELL</text>
<text x="188.5" y="57" font-size="12.5" fill="#fff" textLength="23.4" lengthAdjust="spacingAndGlyphs">BUY</text>
<text x="28.3" y="96" font-size="12" fill="#fff" textLength="22.6" lengthAdjust="spacingAndGlyphs" font-weight="bold">7.07</text>
<text x="56.5" y="96.3" font-size="35" fill="#fff" textLength="32.8" lengthAdjust="spacingAndGlyphs">21</text>
<text x="94.8" y="80" font-size="11" fill="#fff" textLength="6.9" lengthAdjust="spacingAndGlyphs" font-weight="bold">0</text>
<text x="138.1" y="96" font-size="12" fill="#fff" textLength="23.5" lengthAdjust="spacingAndGlyphs" font-weight="bold">7.07</text>
<text x="166.3" y="96.3" font-size="35" fill="#fff" textLength="34.1" lengthAdjust="spacingAndGlyphs">45</text>
<text x="206.4" y="80" font-size="11" fill="#fff" textLength="6.4" lengthAdjust="spacingAndGlyphs" font-weight="bold">1</text>
</svg>
</body></html>
